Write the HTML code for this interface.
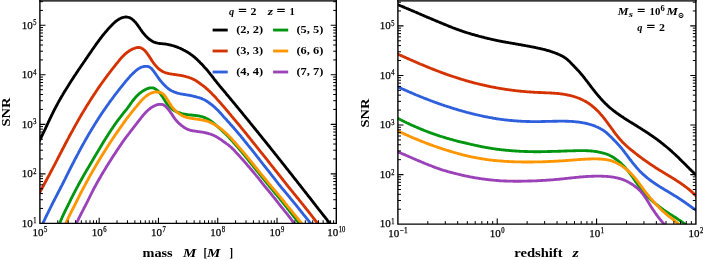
<!DOCTYPE html>
<html lang="en"><head><meta charset="utf-8"><title>SNR of ringdown modes</title>
<style>html,body{margin:0;padding:0;background:#fff;}body{width:703px;height:260px;overflow:hidden;}svg{display:block;}</style>
</head><body>
<svg width="703" height="260" viewBox="0 0 703 260" font-family='"Liberation Serif", "DejaVu Serif", serif'>
<rect width="703" height="260" fill="#fff"/>
<defs>
<clipPath id="c0"><rect x="39.9" y="0.85" width="296.40" height="222.50"/></clipPath>
<clipPath id="c1"><rect x="397.9" y="0.85" width="298.00" height="223.30"/></clipPath>
</defs>
<g clip-path="url(#c0)" fill="none" stroke-width="2.85" stroke-linejoin="round" stroke-linecap="butt">
<path d="M37.2,144.8 L37.6,144.1 L38.0,143.4 L38.4,142.7 L38.7,142.0 L39.1,141.3 L39.5,140.6 L39.8,139.9 L40.2,139.3 L40.5,138.6 L40.9,137.9 L41.2,137.2 L41.6,136.5 L41.9,135.8 L42.2,135.2 L42.6,134.5 L42.9,133.8 L43.2,133.1 L43.6,132.4 L43.9,131.8 L44.2,131.1 L44.5,130.4 L44.9,129.7 L45.2,129.1 L45.5,128.4 L45.8,127.7 L46.1,127.0 L46.4,126.4 L46.8,125.7 L47.1,125.0 L47.4,124.3 L47.7,123.7 L48.0,123.0 L48.3,122.3 L48.6,121.6 L49.0,121.0 L49.3,120.3 L49.6,119.6 L49.9,119.0 L50.2,118.3 L50.5,117.6 L50.9,117.0 L51.2,116.3 L51.5,115.6 L51.8,115.0 L52.1,114.3 L52.5,113.6 L52.8,113.0 L53.1,112.3 L53.4,111.7 L53.8,111.0 L54.1,110.3 L54.4,109.7 L54.8,109.0 L55.1,108.3 L55.5,107.7 L55.8,107.0 L56.2,106.4 L56.5,105.7 L56.9,105.1 L57.2,104.4 L57.6,103.7 L57.9,103.1 L58.3,102.4 L58.6,101.8 L59.0,101.1 L59.4,100.5 L59.7,99.8 L60.1,99.2 L60.5,98.5 L60.9,97.9 L61.2,97.2 L61.6,96.6 L62.0,95.9 L62.4,95.3 L62.8,94.6 L63.1,94.0 L63.5,93.3 L63.9,92.7 L64.3,92.0 L64.7,91.4 L65.1,90.7 L65.5,90.1 L65.9,89.5 L66.3,88.8 L66.7,88.2 L67.1,87.5 L67.5,86.9 L67.9,86.3 L68.3,85.6 L68.7,85.0 L69.1,84.3 L69.5,83.7 L69.9,83.1 L70.3,82.4 L70.7,81.8 L71.1,81.1 L71.5,80.5 L71.9,79.9 L72.4,79.2 L72.8,78.6 L73.2,78.0 L73.6,77.3 L74.0,76.7 L74.4,76.1 L74.8,75.4 L75.3,74.8 L75.7,74.2 L76.1,73.6 L76.5,72.9 L76.9,72.3 L77.4,71.7 L77.8,71.0 L78.2,70.4 L78.6,69.8 L79.0,69.2 L79.5,68.5 L79.9,67.9 L80.3,67.3 L80.7,66.7 L81.2,66.0 L81.6,65.4 L82.0,64.8 L82.4,64.2 L82.9,63.6 L83.3,62.9 L83.7,62.3 L84.1,61.7 L84.6,61.1 L85.0,60.5 L85.4,59.8 L85.8,59.2 L86.2,58.6 L86.7,58.0 L87.1,57.4 L87.5,56.8 L87.9,56.1 L88.3,55.5 L88.8,54.9 L89.2,54.3 L89.6,53.7 L90.0,53.1 L90.4,52.5 L90.9,51.9 L91.3,51.3 L91.7,50.6 L92.1,50.0 L92.5,49.4 L93.0,48.8 L93.4,48.2 L93.8,47.6 L94.2,47.0 L94.7,46.4 L95.1,45.8 L95.5,45.2 L95.9,44.6 L96.4,44.0 L96.8,43.4 L97.2,42.8 L97.7,42.2 L98.1,41.6 L98.6,41.0 L99.0,40.4 L99.4,39.8 L99.9,39.2 L100.3,38.6 L100.8,38.0 L101.2,37.4 L101.7,36.8 L102.2,36.2 L102.6,35.6 L103.1,35.1 L103.6,34.5 L104.0,33.9 L104.5,33.3 L105.0,32.7 L105.5,32.1 L106.0,31.5 L106.5,31.0 L107.0,30.4 L107.5,29.8 L108.0,29.2 L108.5,28.6 L109.0,28.0 L109.5,27.5 L110.1,26.9 L110.6,26.3 L111.2,25.8 L111.7,25.2 L112.3,24.6 L112.9,24.1 L113.4,23.5 L114.0,23.0 L114.6,22.4 L115.2,21.9 L115.8,21.4 L116.4,20.9 L117.1,20.5 L117.7,20.0 L118.3,19.6 L119.0,19.2 L119.6,18.8 L120.3,18.5 L120.9,18.2 L121.6,17.9 L122.3,17.7 L123.0,17.5 L123.6,17.3 L124.3,17.2 L125.0,17.1 L125.7,17.0 L126.3,17.0 L127.0,17.1 L127.6,17.2 L128.3,17.3 L128.9,17.5 L129.5,17.7 L130.1,17.9 L130.7,18.3 L131.3,18.6 L131.9,19.0 L132.5,19.5 L133.0,19.9 L133.6,20.4 L134.1,21.0 L134.6,21.5 L135.2,22.1 L135.7,22.6 L136.1,23.2 L136.6,23.8 L137.1,24.4 L137.5,25.0 L138.0,25.6 L138.4,26.2 L138.8,26.8 L139.3,27.4 L139.7,28.1 L140.1,28.7 L140.5,29.3 L141.0,29.9 L141.4,30.5 L141.8,31.2 L142.3,31.8 L142.7,32.4 L143.2,33.0 L143.7,33.6 L144.2,34.2 L144.7,34.8 L145.2,35.3 L145.7,35.9 L146.3,36.5 L146.8,37.0 L147.4,37.6 L148.0,38.1 L148.5,38.6 L149.1,39.1 L149.7,39.6 L150.4,40.0 L151.0,40.4 L151.6,40.8 L152.3,41.2 L152.9,41.5 L153.6,41.9 L154.2,42.2 L154.9,42.4 L155.6,42.6 L156.3,42.8 L157.0,43.0 L157.7,43.2 L158.4,43.3 L159.1,43.4 L159.9,43.5 L160.6,43.6 L161.3,43.6 L162.1,43.7 L162.8,43.8 L163.5,43.8 L164.2,43.9 L165.0,44.0 L165.7,44.1 L166.4,44.2 L167.2,44.3 L167.9,44.5 L168.6,44.6 L169.3,44.8 L170.1,44.9 L170.8,45.1 L171.5,45.3 L172.2,45.5 L172.9,45.7 L173.7,45.9 L174.4,46.1 L175.1,46.4 L175.8,46.6 L176.5,46.8 L177.2,47.1 L177.9,47.4 L178.6,47.7 L179.3,48.0 L180.0,48.3 L180.7,48.6 L181.3,48.9 L182.0,49.2 L182.7,49.5 L183.4,49.9 L184.0,50.2 L184.7,50.6 L185.4,51.0 L186.0,51.3 L186.7,51.7 L187.3,52.1 L188.0,52.5 L188.6,52.9 L189.2,53.3 L189.9,53.7 L190.5,54.2 L191.1,54.6 L191.7,55.0 L192.3,55.5 L192.9,55.9 L193.5,56.4 L194.1,56.9 L194.7,57.4 L195.3,57.9 L195.8,58.4 L196.4,58.9 L197.0,59.4 L197.5,60.0 L198.1,60.5 L198.6,61.1 L199.2,61.6 L199.7,62.1 L200.2,62.7 L200.7,63.2 L201.2,63.7 L201.8,64.2 L202.3,64.8 L202.8,65.3 L203.3,65.8 L203.7,66.3 L204.2,66.9 L204.7,67.4 L205.2,67.9 L205.7,68.5 L206.2,69.0 L206.6,69.6 L207.1,70.1 L207.6,70.7 L208.0,71.2 L208.5,71.8 L209.0,72.4 L209.4,72.9 L209.9,73.5 L210.3,74.1 L210.8,74.7 L211.3,75.2 L211.7,75.8 L212.2,76.4 L212.6,77.0 L213.1,77.6 L213.5,78.2 L214.0,78.8 L214.4,79.4 L214.9,79.9 L215.4,80.5 L215.8,81.1 L216.3,81.7 L216.8,82.3 L217.2,82.9 L217.7,83.4 L218.2,84.0 L218.6,84.6 L219.1,85.2 L219.6,85.8 L220.0,86.3 L220.5,86.9 L221.0,87.5 L221.5,88.1 L221.9,88.6 L222.4,89.2 L222.9,89.8 L223.4,90.3 L223.9,90.9 L224.3,91.5 L224.8,92.1 L225.3,92.6 L225.8,93.2 L226.3,93.8 L226.7,94.4 L227.2,94.9 L227.7,95.5 L228.2,96.1 L228.7,96.7 L229.1,97.2 L229.6,97.8 L230.1,98.4 L230.6,99.0 L231.0,99.5 L231.5,100.1 L232.0,100.7 L232.5,101.3 L233.0,101.9 L233.4,102.4 L233.9,103.0 L234.4,103.6 L234.9,104.2 L235.3,104.7 L235.8,105.3 L236.3,105.9 L236.8,106.5 L237.3,107.1 L237.7,107.6 L238.2,108.2 L238.7,108.8 L239.2,109.4 L239.6,110.0 L240.1,110.5 L240.6,111.1 L241.1,111.7 L241.5,112.3 L242.0,112.8 L242.5,113.4 L243.0,114.0 L243.4,114.6 L243.9,115.2 L244.4,115.7 L244.9,116.3 L245.3,116.9 L245.8,117.5 L246.3,118.1 L246.8,118.7 L247.2,119.2 L247.7,119.8 L248.2,120.4 L248.7,121.0 L249.1,121.6 L249.6,122.1 L250.1,122.7 L250.5,123.3 L251.0,123.9 L251.5,124.5 L252.0,125.0 L252.4,125.6 L252.9,126.2 L253.4,126.8 L253.9,127.4 L254.3,128.0 L254.8,128.5 L255.3,129.1 L255.7,129.7 L256.2,130.3 L256.7,130.9 L257.2,131.5 L257.6,132.0 L258.1,132.6 L258.6,133.2 L259.0,133.8 L259.5,134.4 L260.0,135.0 L260.5,135.5 L260.9,136.1 L261.4,136.7 L261.9,137.3 L262.3,137.9 L262.8,138.5 L263.3,139.0 L263.7,139.6 L264.2,140.2 L264.7,140.8 L265.2,141.4 L265.6,142.0 L266.1,142.5 L266.6,143.1 L267.0,143.7 L267.5,144.3 L268.0,144.9 L268.4,145.5 L268.9,146.1 L269.4,146.6 L269.8,147.2 L270.3,147.8 L270.8,148.4 L271.3,149.0 L271.7,149.6 L272.2,150.2 L272.7,150.7 L273.1,151.3 L273.6,151.9 L274.1,152.5 L274.5,153.1 L275.0,153.7 L275.5,154.3 L275.9,154.8 L276.4,155.4 L276.9,156.0 L277.3,156.6 L277.8,157.2 L278.3,157.8 L278.7,158.4 L279.2,159.0 L279.7,159.5 L280.1,160.1 L280.6,160.7 L281.1,161.3 L281.5,161.9 L282.0,162.5 L282.5,163.1 L282.9,163.7 L283.4,164.2 L283.9,164.8 L284.3,165.4 L284.8,166.0 L285.3,166.6 L285.7,167.2 L286.2,167.8 L286.6,168.4 L287.1,168.9 L287.6,169.5 L288.0,170.1 L288.5,170.7 L289.0,171.3 L289.4,171.9 L289.9,172.5 L290.4,173.1 L290.8,173.6 L291.3,174.2 L291.8,174.8 L292.2,175.4 L292.7,176.0 L293.1,176.6 L293.6,177.2 L294.1,177.8 L294.5,178.4 L295.0,178.9 L295.5,179.5 L295.9,180.1 L296.4,180.7 L296.9,181.3 L297.3,181.9 L297.8,182.5 L298.2,183.1 L298.7,183.7 L299.2,184.3 L299.6,184.8 L300.1,185.4 L300.6,186.0 L301.0,186.6 L301.5,187.2 L301.9,187.8 L302.4,188.4 L302.9,189.0 L303.3,189.6 L303.8,190.2 L304.3,190.7 L304.7,191.3 L305.2,191.9 L305.6,192.5 L306.1,193.1 L306.6,193.7 L307.0,194.3 L307.5,194.9 L308.0,195.5 L308.4,196.1 L308.9,196.7 L309.3,197.2 L309.8,197.8 L310.3,198.4 L310.7,199.0 L311.2,199.6 L311.6,200.2 L312.1,200.8 L312.6,201.4 L313.0,202.0 L313.5,202.6 L313.9,203.2 L314.4,203.7 L314.9,204.3 L315.3,204.9 L315.8,205.5 L316.2,206.1 L316.7,206.7 L317.2,207.3 L317.6,207.9 L318.1,208.5 L318.5,209.1 L319.0,209.7 L319.5,210.2 L319.9,210.8 L320.4,211.4 L320.9,212.0 L321.3,212.6 L321.8,213.2 L322.3,213.8 L322.7,214.4 L323.2,215.0 L323.7,215.6 L324.1,216.2 L324.6,216.8 L325.1,217.3 L325.5,217.9 L326.0,218.5 L326.5,219.1 L327.0,219.7 L327.4,220.3 L327.9,220.9 L328.4,221.5 L328.8,222.1 L329.3,222.7 L329.8,223.3 L330.2,223.9 L330.7,224.5 L331.1,225.0 L331.6,225.6 L332.1,226.2 L332.5,226.8 L333.0,227.4 L333.2,227.8" stroke="#000000"/>
<path d="M38.6,194.6 L38.9,193.9 L39.3,193.3 L39.7,192.6 L40.0,191.9 L40.4,191.3 L40.7,190.6 L41.1,190.0 L41.5,189.3 L41.8,188.6 L42.2,188.0 L42.6,187.3 L42.9,186.6 L43.3,186.0 L43.6,185.3 L44.0,184.6 L44.3,184.0 L44.7,183.3 L45.1,182.7 L45.4,182.0 L45.8,181.3 L46.1,180.7 L46.5,180.0 L46.8,179.3 L47.2,178.7 L47.6,178.0 L47.9,177.3 L48.3,176.7 L48.6,176.0 L49.0,175.4 L49.3,174.7 L49.7,174.0 L50.0,173.4 L50.4,172.7 L50.7,172.0 L51.1,171.4 L51.4,170.7 L51.8,170.0 L52.1,169.4 L52.5,168.7 L52.8,168.1 L53.2,167.4 L53.5,166.7 L53.9,166.1 L54.2,165.4 L54.6,164.7 L54.9,164.1 L55.3,163.4 L55.6,162.7 L55.9,162.1 L56.3,161.4 L56.6,160.8 L57.0,160.1 L57.3,159.4 L57.7,158.8 L58.0,158.1 L58.3,157.4 L58.7,156.8 L59.0,156.1 L59.4,155.5 L59.7,154.8 L60.0,154.1 L60.4,153.5 L60.7,152.8 L61.1,152.1 L61.4,151.5 L61.8,150.8 L62.1,150.2 L62.4,149.5 L62.8,148.8 L63.1,148.2 L63.5,147.5 L63.8,146.9 L64.2,146.2 L64.5,145.5 L64.8,144.9 L65.2,144.2 L65.5,143.5 L65.9,142.9 L66.2,142.2 L66.6,141.6 L66.9,140.9 L67.3,140.3 L67.6,139.6 L68.0,138.9 L68.3,138.3 L68.7,137.6 L69.0,137.0 L69.4,136.3 L69.7,135.6 L70.1,135.0 L70.5,134.3 L70.8,133.7 L71.2,133.0 L71.5,132.4 L71.9,131.7 L72.3,131.0 L72.6,130.4 L73.0,129.7 L73.3,129.1 L73.7,128.4 L74.1,127.8 L74.4,127.1 L74.8,126.5 L75.1,125.8 L75.5,125.1 L75.9,124.5 L76.2,123.8 L76.6,123.2 L77.0,122.5 L77.3,121.9 L77.7,121.2 L78.1,120.6 L78.4,119.9 L78.8,119.3 L79.2,118.6 L79.6,118.0 L79.9,117.3 L80.3,116.7 L80.7,116.0 L81.1,115.4 L81.4,114.7 L81.8,114.1 L82.2,113.4 L82.6,112.8 L83.0,112.1 L83.4,111.5 L83.8,110.8 L84.2,110.2 L84.6,109.5 L85.0,108.9 L85.4,108.2 L85.8,107.6 L86.1,106.9 L86.5,106.3 L86.9,105.6 L87.4,105.0 L87.8,104.4 L88.2,103.7 L88.6,103.1 L89.0,102.4 L89.4,101.8 L89.8,101.1 L90.2,100.5 L90.6,99.8 L91.0,99.2 L91.4,98.6 L91.8,97.9 L92.2,97.3 L92.7,96.6 L93.1,96.0 L93.5,95.4 L93.9,94.7 L94.3,94.1 L94.7,93.5 L95.2,92.8 L95.6,92.2 L96.0,91.5 L96.4,90.9 L96.9,90.3 L97.3,89.6 L97.7,89.0 L98.1,88.4 L98.6,87.7 L99.0,87.1 L99.5,86.5 L99.9,85.8 L100.3,85.2 L100.8,84.6 L101.2,83.9 L101.7,83.3 L102.1,82.7 L102.6,82.0 L103.0,81.4 L103.5,80.8 L103.9,80.2 L104.4,79.5 L104.9,78.9 L105.3,78.3 L105.8,77.6 L106.2,77.0 L106.7,76.4 L107.2,75.8 L107.6,75.1 L108.1,74.5 L108.6,73.9 L109.1,73.3 L109.5,72.6 L110.0,72.0 L110.5,71.4 L111.0,70.8 L111.4,70.2 L111.9,69.5 L112.4,68.9 L112.9,68.3 L113.4,67.7 L113.9,67.1 L114.4,66.5 L114.9,65.9 L115.3,65.2 L115.8,64.6 L116.3,64.0 L116.8,63.4 L117.3,62.8 L117.7,62.3 L118.2,61.7 L118.7,61.1 L119.1,60.5 L119.6,60.0 L120.0,59.4 L120.5,58.8 L121.0,58.3 L121.5,57.8 L121.9,57.2 L122.4,56.7 L122.9,56.2 L123.4,55.7 L123.9,55.2 L124.5,54.7 L125.0,54.2 L125.5,53.7 L126.0,53.3 L126.6,52.8 L127.1,52.4 L127.7,52.0 L128.3,51.6 L128.8,51.2 L129.4,50.8 L130.0,50.4 L130.6,50.1 L131.2,49.7 L131.9,49.4 L132.5,49.1 L133.1,48.8 L133.8,48.5 L134.5,48.3 L135.1,48.1 L135.8,47.9 L136.4,47.7 L137.1,47.6 L137.7,47.5 L138.4,47.5 L139.0,47.5 L139.6,47.6 L140.2,47.7 L140.8,47.9 L141.4,48.1 L141.9,48.4 L142.5,48.7 L143.0,49.1 L143.5,49.5 L144.0,49.9 L144.5,50.3 L145.0,50.8 L145.5,51.3 L145.9,51.9 L146.4,52.4 L146.8,53.0 L147.3,53.6 L147.7,54.3 L148.2,54.9 L148.6,55.5 L149.0,56.2 L149.5,56.9 L149.9,57.5 L150.3,58.2 L150.8,58.9 L151.2,59.6 L151.6,60.2 L152.1,60.9 L152.5,61.6 L153.0,62.2 L153.4,62.8 L153.9,63.5 L154.4,64.1 L154.9,64.7 L155.4,65.3 L155.9,65.9 L156.5,66.6 L157.1,67.2 L157.6,67.7 L158.2,68.3 L158.8,68.8 L159.4,69.3 L160.0,69.8 L160.6,70.2 L161.2,70.6 L161.8,71.0 L162.4,71.4 L163.1,71.7 L163.7,72.0 L164.4,72.3 L165.0,72.6 L165.7,72.8 L166.4,73.0 L167.1,73.2 L167.8,73.4 L168.5,73.5 L169.2,73.7 L170.0,73.8 L170.7,73.9 L171.4,74.1 L172.2,74.2 L172.9,74.3 L173.7,74.4 L174.5,74.5 L175.2,74.6 L176.0,74.7 L176.8,74.8 L177.5,75.0 L178.3,75.1 L179.1,75.2 L179.9,75.3 L180.6,75.4 L181.4,75.6 L182.2,75.7 L182.9,75.9 L183.7,76.0 L184.4,76.2 L185.2,76.4 L185.9,76.6 L186.7,76.8 L187.4,77.0 L188.1,77.2 L188.9,77.5 L189.6,77.7 L190.3,78.0 L190.9,78.2 L191.6,78.5 L192.3,78.8 L192.9,79.1 L193.6,79.4 L194.2,79.7 L194.9,80.1 L195.5,80.4 L196.1,80.8 L196.7,81.2 L197.3,81.6 L197.9,82.0 L198.5,82.4 L199.1,82.8 L199.6,83.2 L200.2,83.6 L200.8,84.1 L201.3,84.5 L201.9,84.9 L202.5,85.3 L203.0,85.7 L203.6,86.1 L204.1,86.6 L204.7,87.0 L205.2,87.4 L205.8,87.9 L206.3,88.4 L206.8,88.9 L207.4,89.3 L207.9,89.8 L208.4,90.3 L209.0,90.8 L209.5,91.3 L210.0,91.8 L210.6,92.3 L211.1,92.8 L211.6,93.3 L212.1,93.9 L212.6,94.4 L213.1,94.9 L213.7,95.5 L214.2,96.0 L214.7,96.5 L215.2,97.1 L215.7,97.6 L216.2,98.2 L216.7,98.7 L217.2,99.3 L217.7,99.9 L218.2,100.4 L218.7,101.0 L219.2,101.5 L219.7,102.1 L220.2,102.7 L220.7,103.2 L221.2,103.8 L221.7,104.4 L222.1,104.9 L222.6,105.5 L223.1,106.1 L223.6,106.6 L224.1,107.2 L224.6,107.8 L225.1,108.3 L225.6,108.9 L226.0,109.5 L226.5,110.0 L227.0,110.6 L227.5,111.2 L228.0,111.8 L228.5,112.3 L228.9,112.9 L229.4,113.5 L229.9,114.1 L230.4,114.6 L230.9,115.2 L231.3,115.8 L231.8,116.4 L232.3,116.9 L232.8,117.5 L233.3,118.1 L233.7,118.7 L234.2,119.2 L234.7,119.8 L235.2,120.4 L235.7,121.0 L236.2,121.5 L236.6,122.1 L237.1,122.7 L237.6,123.3 L238.1,123.8 L238.6,124.4 L239.0,125.0 L239.5,125.6 L240.0,126.1 L240.5,126.7 L240.9,127.3 L241.4,127.9 L241.9,128.5 L242.4,129.0 L242.8,129.6 L243.3,130.2 L243.8,130.8 L244.2,131.3 L244.7,131.9 L245.2,132.5 L245.6,133.1 L246.1,133.6 L246.6,134.2 L247.0,134.8 L247.5,135.4 L248.0,136.0 L248.4,136.5 L248.9,137.1 L249.4,137.7 L249.8,138.3 L250.3,138.8 L250.7,139.4 L251.2,140.0 L251.7,140.6 L252.1,141.2 L252.6,141.7 L253.1,142.3 L253.5,142.9 L254.0,143.5 L254.5,144.1 L254.9,144.6 L255.4,145.2 L255.9,145.8 L256.3,146.4 L256.8,147.0 L257.3,147.5 L257.7,148.1 L258.2,148.7 L258.7,149.3 L259.1,149.9 L259.6,150.4 L260.0,151.0 L260.5,151.6 L261.0,152.2 L261.4,152.8 L261.9,153.3 L262.4,153.9 L262.8,154.5 L263.3,155.1 L263.8,155.7 L264.2,156.3 L264.7,156.8 L265.2,157.4 L265.6,158.0 L266.1,158.6 L266.6,159.2 L267.0,159.7 L267.5,160.3 L267.9,160.9 L268.4,161.5 L268.9,162.1 L269.3,162.7 L269.8,163.2 L270.2,163.8 L270.7,164.4 L271.2,165.0 L271.6,165.6 L272.1,166.2 L272.6,166.8 L273.0,167.3 L273.5,167.9 L274.0,168.5 L274.4,169.1 L274.9,169.7 L275.4,170.3 L275.8,170.9 L276.3,171.4 L276.8,172.0 L277.2,172.6 L277.7,173.2 L278.2,173.8 L278.6,174.4 L279.1,175.0 L279.6,175.6 L280.0,176.1 L280.5,176.7 L281.0,177.3 L281.4,177.9 L281.9,178.5 L282.4,179.1 L282.8,179.7 L283.3,180.3 L283.7,180.9 L284.2,181.4 L284.7,182.0 L285.1,182.6 L285.6,183.2 L286.1,183.8 L286.5,184.4 L287.0,185.0 L287.5,185.6 L287.9,186.2 L288.4,186.8 L288.9,187.4 L289.4,187.9 L289.8,188.5 L290.3,189.1 L290.8,189.7 L291.3,190.3 L291.8,190.9 L292.3,191.5 L292.8,192.1 L293.3,192.7 L293.7,193.3 L294.2,193.9 L294.7,194.5 L295.2,195.1 L295.7,195.7 L296.2,196.3 L296.6,196.9 L297.1,197.4 L297.6,198.0 L298.1,198.6 L298.6,199.2 L299.0,199.8 L299.5,200.4 L300.0,201.0 L300.5,201.6 L301.0,202.2 L301.4,202.8 L301.9,203.4 L302.4,204.0 L302.9,204.6 L303.4,205.2 L303.8,205.8 L304.3,206.4 L304.8,207.0 L305.3,207.6 L305.7,208.2 L306.2,208.8 L306.7,209.4 L307.2,210.0 L307.7,210.6 L308.1,211.2 L308.6,211.8 L309.1,212.4 L309.5,213.0 L310.0,213.6 L310.5,214.2 L311.0,214.8 L311.4,215.4 L311.9,216.0 L312.4,216.7 L312.9,217.3 L313.3,217.9 L313.8,218.5 L314.3,219.1 L314.7,219.7 L315.2,220.3 L315.7,220.9 L316.1,221.5 L316.6,222.1 L317.0,222.7 L317.5,223.3 L317.9,223.9 L318.4,224.5 L318.8,225.1 L319.2,225.8 L319.7,226.4 L320.1,227.0 L320.5,227.6 L321.0,228.2 L321.1,228.3" stroke="#d43300"/>
<path d="M40.6,228.0 L40.9,227.3 L41.3,226.7 L41.6,226.0 L41.9,225.3 L42.2,224.6 L42.5,223.9 L42.9,223.3 L43.2,222.6 L43.5,221.9 L43.8,221.2 L44.2,220.5 L44.5,219.9 L44.8,219.2 L45.2,218.5 L45.5,217.8 L45.8,217.1 L46.1,216.5 L46.5,215.8 L46.8,215.1 L47.1,214.4 L47.5,213.7 L47.8,213.1 L48.1,212.4 L48.5,211.7 L48.8,211.0 L49.1,210.3 L49.5,209.7 L49.8,209.0 L50.1,208.3 L50.5,207.6 L50.8,207.0 L51.1,206.3 L51.5,205.6 L51.8,204.9 L52.1,204.2 L52.5,203.6 L52.8,202.9 L53.2,202.2 L53.5,201.5 L53.9,200.8 L54.2,200.2 L54.6,199.5 L54.9,198.8 L55.3,198.1 L55.6,197.5 L56.0,196.8 L56.3,196.1 L56.7,195.4 L57.0,194.7 L57.4,194.1 L57.7,193.4 L58.1,192.7 L58.4,192.0 L58.8,191.4 L59.1,190.7 L59.5,190.0 L59.8,189.3 L60.2,188.7 L60.5,188.0 L60.9,187.3 L61.2,186.6 L61.6,186.0 L61.9,185.3 L62.3,184.6 L62.6,183.9 L63.0,183.3 L63.3,182.6 L63.6,181.9 L64.0,181.3 L64.3,180.6 L64.6,179.9 L65.0,179.2 L65.3,178.6 L65.6,177.9 L66.0,177.2 L66.3,176.5 L66.6,175.9 L67.0,175.2 L67.3,174.5 L67.6,173.9 L68.0,173.2 L68.3,172.5 L68.6,171.9 L69.0,171.2 L69.3,170.5 L69.6,169.9 L70.0,169.2 L70.3,168.5 L70.6,167.9 L71.0,167.2 L71.3,166.5 L71.7,165.9 L72.0,165.2 L72.3,164.5 L72.7,163.9 L73.0,163.2 L73.4,162.5 L73.7,161.9 L74.1,161.2 L74.4,160.5 L74.7,159.9 L75.1,159.2 L75.4,158.5 L75.8,157.9 L76.1,157.2 L76.5,156.6 L76.8,155.9 L77.2,155.2 L77.5,154.6 L77.9,153.9 L78.2,153.3 L78.6,152.6 L78.9,151.9 L79.3,151.3 L79.6,150.6 L80.0,150.0 L80.3,149.3 L80.7,148.7 L81.0,148.0 L81.4,147.4 L81.8,146.7 L82.1,146.0 L82.5,145.4 L82.8,144.7 L83.2,144.1 L83.6,143.4 L83.9,142.8 L84.3,142.1 L84.6,141.5 L85.0,140.8 L85.4,140.2 L85.7,139.5 L86.1,138.9 L86.5,138.2 L86.9,137.6 L87.2,136.9 L87.6,136.3 L88.0,135.6 L88.4,135.0 L88.7,134.3 L89.1,133.7 L89.5,133.1 L89.9,132.4 L90.3,131.8 L90.7,131.1 L91.0,130.5 L91.4,129.8 L91.8,129.2 L92.2,128.6 L92.6,127.9 L93.0,127.3 L93.4,126.6 L93.8,126.0 L94.1,125.4 L94.5,124.7 L94.9,124.1 L95.3,123.5 L95.7,122.8 L96.1,122.2 L96.5,121.6 L96.9,120.9 L97.3,120.3 L97.7,119.7 L98.1,119.0 L98.5,118.4 L98.9,117.8 L99.3,117.1 L99.7,116.5 L100.2,115.9 L100.6,115.2 L101.0,114.6 L101.4,114.0 L101.8,113.4 L102.2,112.7 L102.7,112.1 L103.1,111.5 L103.5,110.9 L103.9,110.3 L104.4,109.6 L104.8,109.0 L105.2,108.4 L105.7,107.8 L106.1,107.1 L106.5,106.5 L107.0,105.9 L107.4,105.3 L107.8,104.7 L108.3,104.1 L108.7,103.5 L109.1,102.8 L109.6,102.2 L110.0,101.6 L110.5,101.0 L110.9,100.4 L111.4,99.8 L111.8,99.2 L112.3,98.6 L112.7,98.0 L113.2,97.3 L113.6,96.7 L114.1,96.1 L114.5,95.5 L115.0,94.9 L115.4,94.3 L115.9,93.7 L116.4,93.1 L116.8,92.5 L117.3,91.9 L117.8,91.3 L118.2,90.7 L118.7,90.1 L119.2,89.5 L119.6,88.9 L120.1,88.3 L120.6,87.7 L121.1,87.1 L121.5,86.6 L122.0,86.0 L122.5,85.4 L123.0,84.8 L123.4,84.2 L123.9,83.6 L124.4,83.0 L124.9,82.4 L125.3,81.8 L125.8,81.3 L126.3,80.7 L126.8,80.1 L127.3,79.5 L127.8,79.0 L128.3,78.4 L128.8,77.8 L129.3,77.2 L129.8,76.7 L130.3,76.1 L130.8,75.6 L131.3,75.0 L131.9,74.5 L132.4,73.9 L132.9,73.4 L133.5,72.9 L134.0,72.4 L134.6,71.8 L135.2,71.3 L135.7,70.8 L136.3,70.3 L136.9,69.9 L137.5,69.4 L138.1,69.0 L138.7,68.6 L139.4,68.2 L140.0,67.8 L140.7,67.5 L141.3,67.2 L142.0,67.0 L142.7,66.8 L143.3,66.6 L144.0,66.5 L144.7,66.4 L145.3,66.3 L146.0,66.3 L146.6,66.3 L147.2,66.4 L147.8,66.5 L148.4,66.6 L148.9,66.8 L149.5,67.1 L150.0,67.4 L150.5,67.8 L151.0,68.2 L151.5,68.6 L152.0,69.1 L152.4,69.7 L152.9,70.2 L153.4,70.8 L153.8,71.4 L154.3,72.0 L154.7,72.7 L155.2,73.3 L155.6,73.9 L156.1,74.5 L156.5,75.2 L156.9,75.8 L157.4,76.4 L157.8,77.0 L158.2,77.6 L158.7,78.3 L159.1,78.9 L159.5,79.5 L160.0,80.1 L160.4,80.7 L160.9,81.3 L161.4,81.8 L161.9,82.4 L162.4,83.0 L162.9,83.6 L163.4,84.1 L163.9,84.7 L164.5,85.2 L165.1,85.8 L165.7,86.4 L166.3,86.9 L166.9,87.5 L167.5,88.0 L168.1,88.5 L168.8,89.0 L169.4,89.5 L170.1,89.9 L170.7,90.3 L171.4,90.7 L172.0,91.0 L172.7,91.3 L173.3,91.6 L174.0,91.9 L174.7,92.2 L175.4,92.4 L176.1,92.7 L176.8,92.9 L177.5,93.1 L178.3,93.3 L179.0,93.5 L179.7,93.7 L180.5,93.8 L181.2,94.0 L182.0,94.1 L182.7,94.2 L183.5,94.4 L184.2,94.5 L185.0,94.6 L185.7,94.7 L186.5,94.8 L187.2,95.0 L188.0,95.1 L188.8,95.2 L189.5,95.4 L190.3,95.5 L191.0,95.6 L191.8,95.8 L192.5,96.0 L193.3,96.1 L194.0,96.3 L194.8,96.5 L195.5,96.7 L196.2,96.9 L196.9,97.1 L197.6,97.3 L198.3,97.5 L199.0,97.7 L199.7,97.9 L200.4,98.2 L201.1,98.4 L201.8,98.6 L202.4,98.9 L203.0,99.2 L203.7,99.5 L204.3,99.8 L204.9,100.1 L205.5,100.5 L206.1,100.9 L206.8,101.2 L207.4,101.7 L208.0,102.1 L208.7,102.5 L209.3,103.0 L210.0,103.5 L210.7,104.0 L211.3,104.5 L212.0,105.0 L212.7,105.5 L213.3,106.1 L214.0,106.6 L214.6,107.2 L215.3,107.8 L215.9,108.4 L216.5,109.0 L217.1,109.6 L217.7,110.1 L218.3,110.7 L218.8,111.3 L219.4,111.9 L219.9,112.4 L220.4,113.0 L220.9,113.6 L221.4,114.1 L221.9,114.7 L222.4,115.2 L222.9,115.8 L223.3,116.3 L223.8,116.9 L224.3,117.4 L224.8,118.0 L225.3,118.5 L225.8,119.0 L226.3,119.6 L226.8,120.1 L227.2,120.7 L227.7,121.2 L228.2,121.7 L228.7,122.3 L229.2,122.8 L229.7,123.3 L230.1,123.9 L230.6,124.4 L231.1,124.9 L231.6,125.5 L232.0,126.0 L232.5,126.5 L233.0,127.1 L233.5,127.6 L233.9,128.2 L234.4,128.7 L234.9,129.2 L235.3,129.8 L235.8,130.3 L236.3,130.9 L236.7,131.4 L237.2,132.0 L237.7,132.5 L238.1,133.0 L238.6,133.6 L239.0,134.1 L239.5,134.7 L240.0,135.2 L240.4,135.8 L240.9,136.3 L241.3,136.9 L241.8,137.5 L242.3,138.0 L242.7,138.6 L243.2,139.1 L243.6,139.7 L244.1,140.2 L244.5,140.8 L245.0,141.4 L245.4,141.9 L245.9,142.5 L246.3,143.0 L246.8,143.6 L247.2,144.2 L247.7,144.7 L248.1,145.3 L248.6,145.9 L249.1,146.4 L249.5,147.0 L250.0,147.6 L250.4,148.1 L250.9,148.7 L251.3,149.3 L251.8,149.8 L252.3,150.4 L252.7,151.0 L253.2,151.6 L253.6,152.1 L254.1,152.7 L254.6,153.3 L255.0,153.9 L255.5,154.4 L255.9,155.0 L256.4,155.6 L256.8,156.2 L257.3,156.7 L257.7,157.3 L258.2,157.9 L258.6,158.5 L259.1,159.1 L259.5,159.6 L260.0,160.2 L260.4,160.8 L260.9,161.4 L261.3,162.0 L261.8,162.5 L262.2,163.1 L262.7,163.7 L263.1,164.3 L263.6,164.9 L264.0,165.5 L264.5,166.0 L265.0,166.6 L265.4,167.2 L265.9,167.8 L266.4,168.4 L266.8,169.0 L267.3,169.6 L267.8,170.2 L268.2,170.7 L268.7,171.3 L269.2,171.9 L269.6,172.5 L270.1,173.1 L270.6,173.7 L271.0,174.3 L271.5,174.9 L272.0,175.5 L272.4,176.1 L272.9,176.7 L273.4,177.2 L273.8,177.8 L274.3,178.4 L274.7,179.0 L275.2,179.6 L275.7,180.2 L276.1,180.8 L276.6,181.4 L277.1,182.0 L277.5,182.6 L278.0,183.2 L278.4,183.8 L278.9,184.4 L279.4,185.0 L279.9,185.6 L280.3,186.2 L280.8,186.8 L281.3,187.4 L281.8,188.0 L282.3,188.6 L282.8,189.2 L283.3,189.8 L283.8,190.3 L284.3,190.9 L284.8,191.5 L285.3,192.1 L285.8,192.7 L286.3,193.3 L286.8,193.9 L287.3,194.5 L287.8,195.1 L288.3,195.7 L288.8,196.3 L289.3,196.9 L289.8,197.5 L290.2,198.1 L290.7,198.7 L291.2,199.3 L291.7,199.9 L292.2,200.5 L292.7,201.1 L293.2,201.7 L293.7,202.3 L294.2,202.9 L294.7,203.5 L295.2,204.1 L295.7,204.7 L296.2,205.3 L296.7,205.9 L297.1,206.5 L297.6,207.1 L298.1,207.7 L298.6,208.3 L299.0,208.9 L299.5,209.5 L300.0,210.1 L300.5,210.7 L301.0,211.3 L301.4,211.9 L301.9,212.5 L302.4,213.1 L302.9,213.7 L303.3,214.3 L303.8,214.9 L304.3,215.4 L304.8,216.0 L305.2,216.6 L305.7,217.2 L306.2,217.8 L306.7,218.4 L307.1,219.0 L307.6,219.6 L308.1,220.2 L308.6,220.8 L309.0,221.4 L309.5,222.0 L310.0,222.6 L310.4,223.2 L310.9,223.8 L311.3,224.4 L311.8,224.9 L312.2,225.5 L312.7,226.1 L313.1,226.7 L313.6,227.3 L314.1,227.9 L314.3,228.2" stroke="#2e5fdc"/>
<path d="M58.0,228.1 L58.2,227.4 L58.5,226.7 L58.7,225.9 L58.9,225.2 L59.2,224.5 L59.5,223.8 L59.7,223.1 L60.0,222.4 L60.3,221.7 L60.6,221.0 L60.9,220.3 L61.2,219.6 L61.5,218.9 L61.8,218.2 L62.1,217.5 L62.4,216.8 L62.7,216.1 L63.1,215.4 L63.4,214.7 L63.7,214.0 L64.0,213.3 L64.4,212.6 L64.7,211.9 L65.0,211.2 L65.4,210.5 L65.7,209.8 L66.1,209.1 L66.4,208.4 L66.8,207.7 L67.1,207.0 L67.5,206.4 L67.8,205.7 L68.1,205.0 L68.5,204.3 L68.8,203.6 L69.2,202.9 L69.5,202.2 L69.8,201.6 L70.1,200.9 L70.5,200.2 L70.8,199.5 L71.1,198.8 L71.5,198.2 L71.8,197.5 L72.1,196.8 L72.5,196.1 L72.8,195.5 L73.2,194.8 L73.5,194.1 L73.9,193.5 L74.2,192.8 L74.6,192.1 L74.9,191.4 L75.3,190.8 L75.6,190.1 L76.0,189.4 L76.3,188.8 L76.7,188.1 L77.0,187.4 L77.4,186.8 L77.8,186.1 L78.1,185.5 L78.5,184.8 L78.8,184.1 L79.2,183.5 L79.6,182.8 L79.9,182.2 L80.3,181.5 L80.7,180.8 L81.0,180.2 L81.4,179.5 L81.8,178.9 L82.1,178.2 L82.5,177.6 L82.9,176.9 L83.2,176.2 L83.6,175.6 L84.0,174.9 L84.4,174.3 L84.7,173.6 L85.1,173.0 L85.5,172.3 L85.9,171.7 L86.2,171.0 L86.6,170.4 L87.0,169.7 L87.4,169.1 L87.8,168.5 L88.1,167.8 L88.5,167.2 L88.9,166.5 L89.3,165.9 L89.7,165.2 L90.1,164.6 L90.4,163.9 L90.8,163.3 L91.2,162.7 L91.6,162.0 L91.9,161.4 L92.3,160.7 L92.7,160.1 L93.1,159.5 L93.4,158.8 L93.8,158.2 L94.2,157.5 L94.6,156.9 L94.9,156.3 L95.3,155.6 L95.7,155.0 L96.1,154.4 L96.5,153.7 L96.8,153.1 L97.2,152.5 L97.6,151.8 L98.0,151.2 L98.3,150.6 L98.7,149.9 L99.1,149.3 L99.5,148.7 L99.9,148.0 L100.2,147.4 L100.6,146.8 L101.0,146.1 L101.4,145.5 L101.8,144.9 L102.1,144.2 L102.5,143.6 L102.9,143.0 L103.3,142.4 L103.6,141.7 L104.0,141.1 L104.4,140.5 L104.8,139.8 L105.2,139.2 L105.6,138.6 L106.0,138.0 L106.4,137.3 L106.8,136.7 L107.2,136.1 L107.6,135.5 L108.0,134.8 L108.4,134.2 L108.8,133.6 L109.2,132.9 L109.6,132.3 L110.0,131.7 L110.4,131.1 L110.8,130.5 L111.2,129.8 L111.6,129.2 L112.1,128.6 L112.5,128.0 L112.9,127.3 L113.3,126.7 L113.8,126.1 L114.2,125.5 L114.6,124.8 L115.1,124.2 L115.5,123.6 L116.0,123.0 L116.4,122.3 L116.9,121.7 L117.3,121.1 L117.8,120.5 L118.2,119.9 L118.7,119.2 L119.2,118.6 L119.6,118.0 L120.1,117.4 L120.6,116.8 L121.1,116.1 L121.6,115.5 L122.1,114.9 L122.5,114.3 L123.0,113.7 L123.5,113.0 L124.0,112.4 L124.5,111.8 L125.0,111.2 L125.5,110.6 L126.0,110.0 L126.5,109.4 L127.0,108.8 L127.4,108.2 L127.9,107.6 L128.3,107.0 L128.7,106.4 L129.2,105.8 L129.6,105.2 L130.0,104.6 L130.4,104.0 L130.8,103.5 L131.2,102.9 L131.7,102.3 L132.1,101.7 L132.5,101.2 L132.9,100.6 L133.4,100.0 L133.8,99.5 L134.2,98.9 L134.7,98.4 L135.1,97.9 L135.6,97.3 L136.1,96.8 L136.6,96.3 L137.1,95.8 L137.6,95.3 L138.1,94.8 L138.6,94.3 L139.2,93.8 L139.7,93.3 L140.3,92.9 L140.9,92.4 L141.5,92.0 L142.1,91.5 L142.7,91.1 L143.4,90.7 L144.0,90.3 L144.7,89.9 L145.4,89.5 L146.1,89.2 L146.8,88.8 L147.5,88.6 L148.2,88.3 L148.9,88.1 L149.6,88.0 L150.3,87.9 L150.9,87.8 L151.6,87.8 L152.3,87.8 L152.9,87.9 L153.5,88.1 L154.1,88.3 L154.7,88.6 L155.3,88.9 L155.9,89.3 L156.4,89.7 L157.0,90.1 L157.5,90.6 L158.0,91.1 L158.5,91.6 L159.0,92.1 L159.5,92.7 L160.0,93.2 L160.4,93.8 L160.8,94.4 L161.3,95.0 L161.7,95.6 L162.1,96.2 L162.5,96.8 L162.9,97.4 L163.3,98.0 L163.7,98.7 L164.1,99.3 L164.5,99.9 L164.8,100.5 L165.2,101.1 L165.6,101.8 L166.0,102.4 L166.4,103.0 L166.8,103.5 L167.2,104.1 L167.7,104.7 L168.1,105.3 L168.6,105.8 L169.1,106.4 L169.6,106.9 L170.2,107.5 L170.7,108.0 L171.3,108.5 L171.9,109.0 L172.6,109.4 L173.2,109.9 L173.9,110.3 L174.5,110.7 L175.2,111.1 L176.0,111.4 L176.7,111.8 L177.4,112.1 L178.2,112.4 L178.9,112.7 L179.7,112.9 L180.4,113.2 L181.2,113.4 L181.9,113.6 L182.7,113.8 L183.4,114.0 L184.1,114.1 L184.9,114.2 L185.7,114.4 L186.4,114.5 L187.2,114.6 L187.9,114.7 L188.7,114.8 L189.5,114.9 L190.2,115.0 L191.0,115.0 L191.7,115.1 L192.5,115.2 L193.3,115.2 L194.0,115.3 L194.8,115.4 L195.5,115.5 L196.2,115.6 L197.0,115.7 L197.7,115.8 L198.4,115.9 L199.2,116.0 L199.9,116.2 L200.6,116.3 L201.3,116.5 L202.0,116.7 L202.7,116.9 L203.4,117.1 L204.0,117.3 L204.7,117.6 L205.4,117.9 L206.0,118.2 L206.7,118.5 L207.3,118.8 L208.0,119.2 L208.6,119.6 L209.3,120.0 L209.9,120.4 L210.5,120.8 L211.1,121.3 L211.8,121.7 L212.4,122.2 L213.0,122.7 L213.6,123.2 L214.2,123.6 L214.7,124.1 L215.3,124.6 L215.9,125.1 L216.4,125.6 L217.0,126.1 L217.5,126.6 L218.1,127.1 L218.6,127.6 L219.2,128.0 L219.7,128.5 L220.2,129.0 L220.8,129.5 L221.3,130.0 L221.8,130.4 L222.3,130.9 L222.9,131.4 L223.4,131.9 L223.9,132.4 L224.4,132.8 L224.9,133.3 L225.4,133.8 L225.9,134.3 L226.4,134.8 L226.9,135.3 L227.4,135.8 L227.9,136.3 L228.4,136.8 L228.9,137.3 L229.4,137.9 L229.9,138.4 L230.4,138.9 L230.9,139.4 L231.4,140.0 L231.8,140.5 L232.3,141.0 L232.8,141.6 L233.3,142.1 L233.7,142.7 L234.2,143.2 L234.7,143.7 L235.2,144.3 L235.6,144.8 L236.1,145.4 L236.6,146.0 L237.1,146.5 L237.6,147.1 L238.1,147.6 L238.5,148.2 L239.0,148.8 L239.5,149.3 L240.0,149.9 L240.5,150.5 L241.0,151.1 L241.5,151.6 L241.9,152.2 L242.4,152.8 L242.9,153.4 L243.4,153.9 L243.9,154.5 L244.3,155.1 L244.8,155.7 L245.3,156.3 L245.8,156.9 L246.2,157.5 L246.7,158.0 L247.2,158.6 L247.7,159.2 L248.1,159.8 L248.6,160.4 L249.1,161.0 L249.6,161.6 L250.0,162.2 L250.5,162.8 L251.0,163.4 L251.4,164.0 L251.9,164.5 L252.4,165.1 L252.9,165.7 L253.3,166.3 L253.8,166.9 L254.3,167.5 L254.8,168.1 L255.2,168.7 L255.7,169.3 L256.2,169.9 L256.7,170.5 L257.1,171.1 L257.6,171.6 L258.1,172.2 L258.6,172.8 L259.1,173.4 L259.5,174.0 L260.0,174.6 L260.5,175.2 L261.0,175.8 L261.4,176.4 L261.9,177.0 L262.4,177.5 L262.9,178.1 L263.3,178.7 L263.8,179.3 L264.3,179.9 L264.8,180.5 L265.2,181.1 L265.7,181.7 L266.2,182.3 L266.7,182.8 L267.1,183.4 L267.6,184.0 L268.1,184.6 L268.6,185.2 L269.0,185.8 L269.5,186.4 L270.0,187.0 L270.5,187.6 L271.0,188.1 L271.5,188.7 L272.0,189.3 L272.5,189.9 L273.0,190.5 L273.5,191.1 L273.9,191.7 L274.4,192.3 L274.9,192.9 L275.4,193.5 L275.9,194.1 L276.4,194.6 L276.9,195.2 L277.4,195.8 L277.9,196.4 L278.4,197.0 L278.9,197.6 L279.4,198.2 L279.9,198.8 L280.3,199.4 L280.8,200.0 L281.3,200.6 L281.8,201.2 L282.3,201.8 L282.7,202.4 L283.2,203.0 L283.7,203.6 L284.2,204.2 L284.6,204.8 L285.1,205.4 L285.6,206.0 L286.1,206.6 L286.6,207.2 L287.1,207.8 L287.5,208.5 L288.0,209.1 L288.5,209.7 L289.0,210.3 L289.5,210.9 L289.9,211.5 L290.4,212.1 L290.9,212.7 L291.4,213.4 L291.9,214.0 L292.4,214.6 L292.8,215.2 L293.3,215.8 L293.8,216.5 L294.3,217.1 L294.8,217.7 L295.3,218.3 L295.8,218.9 L296.3,219.6 L296.7,220.2 L297.2,220.8 L297.7,221.5 L298.2,222.1 L298.6,222.7 L299.1,223.4 L299.6,224.0 L300.0,224.6 L300.5,225.3 L300.9,225.9 L301.4,226.6 L301.8,227.2 L302.3,227.8 L302.4,228.1" stroke="#00960f"/>
<path d="M64.1,228.1 L64.3,227.4 L64.6,226.7 L64.9,225.9 L65.1,225.2 L65.4,224.5 L65.7,223.8 L66.0,223.1 L66.3,222.4 L66.6,221.7 L66.9,221.0 L67.2,220.3 L67.5,219.6 L67.9,218.9 L68.2,218.2 L68.5,217.5 L68.8,216.8 L69.2,216.1 L69.5,215.4 L69.9,214.7 L70.2,214.0 L70.5,213.3 L70.9,212.6 L71.2,211.9 L71.6,211.2 L71.9,210.6 L72.3,209.9 L72.6,209.2 L73.0,208.5 L73.4,207.8 L73.7,207.1 L74.1,206.4 L74.4,205.7 L74.8,205.0 L75.1,204.4 L75.5,203.7 L75.8,203.0 L76.2,202.3 L76.5,201.6 L76.8,200.9 L77.2,200.3 L77.5,199.6 L77.8,198.9 L78.2,198.2 L78.5,197.6 L78.8,196.9 L79.2,196.2 L79.5,195.5 L79.8,194.9 L80.2,194.2 L80.5,193.5 L80.9,192.8 L81.2,192.2 L81.6,191.5 L81.9,190.8 L82.3,190.1 L82.6,189.5 L83.0,188.8 L83.3,188.1 L83.7,187.5 L84.0,186.8 L84.4,186.1 L84.8,185.5 L85.1,184.8 L85.5,184.1 L85.8,183.5 L86.2,182.8 L86.5,182.2 L86.9,181.5 L87.2,180.8 L87.6,180.2 L88.0,179.5 L88.3,178.9 L88.7,178.2 L89.0,177.5 L89.4,176.9 L89.8,176.2 L90.1,175.6 L90.5,174.9 L90.9,174.3 L91.2,173.6 L91.6,173.0 L92.0,172.3 L92.4,171.7 L92.7,171.0 L93.1,170.4 L93.5,169.7 L93.9,169.1 L94.2,168.4 L94.6,167.8 L95.0,167.1 L95.4,166.5 L95.8,165.8 L96.1,165.2 L96.5,164.5 L96.9,163.9 L97.3,163.2 L97.7,162.6 L98.0,162.0 L98.4,161.3 L98.8,160.7 L99.2,160.0 L99.6,159.4 L100.0,158.7 L100.4,158.1 L100.7,157.5 L101.1,156.8 L101.5,156.2 L101.9,155.6 L102.3,154.9 L102.7,154.3 L103.1,153.6 L103.5,153.0 L103.9,152.4 L104.3,151.7 L104.7,151.1 L105.1,150.5 L105.5,149.8 L105.9,149.2 L106.3,148.6 L106.7,147.9 L107.1,147.3 L107.5,146.7 L107.9,146.1 L108.3,145.4 L108.7,144.8 L109.1,144.2 L109.5,143.5 L109.9,142.9 L110.3,142.3 L110.7,141.7 L111.1,141.0 L111.6,140.4 L112.0,139.8 L112.4,139.2 L112.8,138.5 L113.2,137.9 L113.6,137.3 L114.1,136.7 L114.5,136.0 L114.9,135.4 L115.3,134.8 L115.8,134.2 L116.2,133.6 L116.6,132.9 L117.0,132.3 L117.5,131.7 L117.9,131.1 L118.3,130.5 L118.8,129.9 L119.2,129.2 L119.6,128.6 L120.1,128.0 L120.5,127.4 L120.9,126.8 L121.4,126.2 L121.8,125.5 L122.2,124.9 L122.7,124.3 L123.1,123.7 L123.5,123.1 L124.0,122.5 L124.4,121.9 L124.8,121.2 L125.3,120.6 L125.7,120.0 L126.2,119.4 L126.6,118.8 L127.1,118.2 L127.5,117.6 L128.0,117.0 L128.5,116.4 L128.9,115.8 L129.4,115.2 L129.9,114.6 L130.3,114.0 L130.8,113.4 L131.3,112.8 L131.7,112.2 L132.2,111.6 L132.7,111.0 L133.2,110.4 L133.7,109.8 L134.2,109.2 L134.6,108.6 L135.1,108.0 L135.6,107.4 L136.1,106.9 L136.6,106.3 L137.1,105.7 L137.5,105.1 L138.0,104.6 L138.5,104.0 L139.0,103.4 L139.4,102.9 L139.9,102.3 L140.4,101.7 L140.9,101.2 L141.4,100.6 L141.9,100.1 L142.4,99.5 L143.0,99.0 L143.5,98.5 L144.0,98.0 L144.6,97.5 L145.1,97.0 L145.7,96.5 L146.2,96.1 L146.8,95.7 L147.4,95.2 L148.0,94.8 L148.5,94.5 L149.1,94.1 L149.7,93.8 L150.4,93.5 L151.0,93.2 L151.6,93.0 L152.2,92.7 L152.9,92.5 L153.6,92.4 L154.2,92.2 L154.9,92.1 L155.6,92.1 L156.2,92.0 L156.9,92.0 L157.6,92.0 L158.2,92.1 L158.9,92.1 L159.5,92.3 L160.1,92.4 L160.7,92.6 L161.2,92.8 L161.8,93.1 L162.3,93.4 L162.8,93.8 L163.3,94.2 L163.8,94.7 L164.3,95.2 L164.7,95.7 L165.2,96.3 L165.6,96.9 L166.0,97.5 L166.4,98.1 L166.8,98.8 L167.2,99.4 L167.6,100.1 L168.0,100.7 L168.5,101.4 L168.9,102.1 L169.3,102.7 L169.7,103.4 L170.1,104.1 L170.5,104.7 L171.0,105.4 L171.4,106.0 L171.9,106.7 L172.4,107.3 L172.9,107.9 L173.5,108.6 L174.0,109.2 L174.6,109.8 L175.2,110.4 L175.8,111.0 L176.4,111.5 L177.1,112.1 L177.7,112.6 L178.4,113.1 L179.0,113.6 L179.7,114.1 L180.4,114.6 L181.1,115.0 L181.7,115.4 L182.4,115.7 L183.1,116.1 L183.8,116.4 L184.5,116.7 L185.2,116.9 L185.9,117.1 L186.6,117.4 L187.3,117.6 L188.0,117.7 L188.8,117.9 L189.5,118.0 L190.3,118.2 L191.0,118.3 L191.8,118.4 L192.5,118.5 L193.3,118.7 L194.0,118.8 L194.8,118.9 L195.6,119.0 L196.3,119.1 L197.1,119.2 L197.8,119.3 L198.6,119.4 L199.3,119.5 L200.1,119.6 L200.8,119.8 L201.5,119.9 L202.3,120.0 L203.0,120.1 L203.7,120.3 L204.4,120.4 L205.1,120.6 L205.8,120.8 L206.5,121.0 L207.2,121.2 L207.9,121.4 L208.6,121.7 L209.3,122.0 L210.0,122.3 L210.7,122.6 L211.4,122.9 L212.1,123.2 L212.8,123.6 L213.5,124.0 L214.2,124.3 L214.8,124.7 L215.5,125.1 L216.1,125.5 L216.8,125.9 L217.4,126.3 L218.0,126.7 L218.6,127.1 L219.1,127.5 L219.7,127.9 L220.3,128.3 L220.8,128.8 L221.4,129.2 L221.9,129.6 L222.4,130.1 L223.0,130.5 L223.5,131.0 L224.0,131.4 L224.6,131.9 L225.1,132.4 L225.6,132.9 L226.1,133.3 L226.7,133.8 L227.2,134.3 L227.7,134.8 L228.2,135.3 L228.7,135.8 L229.2,136.3 L229.7,136.8 L230.2,137.3 L230.7,137.8 L231.2,138.3 L231.7,138.8 L232.1,139.4 L232.6,139.9 L233.1,140.4 L233.6,141.0 L234.1,141.5 L234.5,142.0 L235.0,142.6 L235.5,143.1 L235.9,143.7 L236.4,144.2 L236.9,144.8 L237.4,145.3 L237.8,145.9 L238.3,146.4 L238.8,147.0 L239.3,147.6 L239.8,148.1 L240.3,148.7 L240.8,149.3 L241.3,149.8 L241.8,150.4 L242.3,151.0 L242.8,151.6 L243.3,152.2 L243.8,152.7 L244.3,153.3 L244.8,153.9 L245.3,154.5 L245.8,155.1 L246.3,155.7 L246.7,156.3 L247.2,156.8 L247.7,157.4 L248.2,158.0 L248.7,158.6 L249.2,159.2 L249.7,159.8 L250.1,160.4 L250.6,161.0 L251.1,161.6 L251.6,162.2 L252.1,162.8 L252.5,163.4 L253.0,164.0 L253.5,164.6 L254.0,165.2 L254.5,165.8 L254.9,166.3 L255.4,166.9 L255.9,167.5 L256.4,168.1 L256.8,168.7 L257.3,169.3 L257.8,169.9 L258.3,170.5 L258.8,171.1 L259.2,171.7 L259.7,172.3 L260.2,172.9 L260.7,173.4 L261.2,174.0 L261.6,174.6 L262.1,175.2 L262.6,175.8 L263.1,176.4 L263.5,177.0 L264.0,177.5 L264.5,178.1 L265.0,178.7 L265.5,179.3 L265.9,179.9 L266.4,180.5 L266.9,181.1 L267.4,181.6 L267.9,182.2 L268.3,182.8 L268.8,183.4 L269.3,184.0 L269.8,184.5 L270.3,185.1 L270.8,185.7 L271.2,186.3 L271.7,186.9 L272.2,187.5 L272.7,188.0 L273.2,188.6 L273.7,189.2 L274.2,189.8 L274.7,190.4 L275.2,191.0 L275.7,191.5 L276.2,192.1 L276.7,192.7 L277.2,193.3 L277.7,193.9 L278.2,194.5 L278.6,195.0 L279.1,195.6 L279.6,196.2 L280.1,196.8 L280.6,197.4 L281.1,198.0 L281.5,198.6 L282.0,199.2 L282.5,199.7 L283.0,200.3 L283.5,200.9 L283.9,201.5 L284.4,202.1 L284.9,202.7 L285.3,203.3 L285.8,203.9 L286.3,204.5 L286.8,205.1 L287.3,205.7 L287.7,206.3 L288.2,206.9 L288.7,207.4 L289.2,208.0 L289.7,208.6 L290.2,209.2 L290.7,209.8 L291.2,210.4 L291.7,211.0 L292.2,211.7 L292.7,212.3 L293.1,212.9 L293.6,213.5 L294.1,214.1 L294.6,214.7 L295.1,215.3 L295.6,215.9 L296.1,216.5 L296.6,217.1 L297.1,217.7 L297.6,218.4 L298.1,219.0 L298.6,219.6 L299.1,220.2 L299.6,220.8 L300.1,221.5 L300.6,222.1 L301.0,222.7 L301.5,223.3 L302.0,224.0 L302.4,224.6 L302.9,225.2 L303.3,225.9 L303.8,226.5 L304.3,227.1 L304.7,227.8 L305.0,228.1" stroke="#ff9600"/>
<path d="M74.5,228.1 L74.8,227.4 L75.1,226.7 L75.4,226.0 L75.7,225.3 L76.0,224.6 L76.3,223.9 L76.6,223.2 L76.9,222.5 L77.2,221.8 L77.5,221.1 L77.9,220.4 L78.2,219.7 L78.5,219.0 L78.9,218.3 L79.2,217.6 L79.6,216.9 L79.9,216.2 L80.2,215.5 L80.6,214.9 L80.9,214.2 L81.3,213.5 L81.6,212.8 L82.0,212.1 L82.3,211.4 L82.7,210.7 L83.0,210.1 L83.4,209.4 L83.7,208.7 L84.1,208.0 L84.4,207.3 L84.8,206.7 L85.2,206.0 L85.5,205.3 L85.9,204.6 L86.2,204.0 L86.5,203.3 L86.9,202.6 L87.2,201.9 L87.5,201.3 L87.9,200.6 L88.2,199.9 L88.5,199.3 L88.8,198.6 L89.2,197.9 L89.5,197.3 L89.8,196.6 L90.2,195.9 L90.5,195.3 L90.8,194.6 L91.2,193.9 L91.5,193.3 L91.8,192.6 L92.2,192.0 L92.5,191.3 L92.9,190.6 L93.2,190.0 L93.5,189.3 L93.9,188.7 L94.2,188.0 L94.6,187.3 L94.9,186.7 L95.3,186.0 L95.6,185.4 L96.0,184.7 L96.3,184.1 L96.7,183.4 L97.1,182.8 L97.4,182.1 L97.8,181.5 L98.2,180.8 L98.5,180.2 L98.9,179.5 L99.3,178.9 L99.6,178.2 L100.0,177.6 L100.4,177.0 L100.8,176.3 L101.1,175.7 L101.5,175.0 L101.9,174.4 L102.3,173.7 L102.7,173.1 L103.0,172.5 L103.4,171.8 L103.8,171.2 L104.2,170.5 L104.6,169.9 L105.0,169.3 L105.4,168.6 L105.8,168.0 L106.1,167.3 L106.5,166.7 L106.9,166.1 L107.3,165.4 L107.7,164.8 L108.1,164.2 L108.5,163.5 L108.9,162.9 L109.3,162.3 L109.7,161.6 L110.1,161.0 L110.5,160.4 L110.9,159.8 L111.3,159.1 L111.7,158.5 L112.1,157.9 L112.5,157.2 L112.9,156.6 L113.3,156.0 L113.7,155.4 L114.1,154.7 L114.6,154.1 L115.0,153.5 L115.4,152.9 L115.8,152.2 L116.2,151.6 L116.6,151.0 L117.0,150.4 L117.4,149.7 L117.9,149.1 L118.3,148.5 L118.7,147.9 L119.1,147.3 L119.5,146.6 L119.9,146.0 L120.4,145.4 L120.8,144.8 L121.2,144.2 L121.6,143.5 L122.1,142.9 L122.5,142.3 L122.9,141.7 L123.3,141.1 L123.8,140.4 L124.2,139.8 L124.7,139.2 L125.1,138.6 L125.6,138.0 L126.0,137.4 L126.5,136.7 L127.0,136.1 L127.4,135.5 L127.9,134.9 L128.4,134.3 L128.8,133.7 L129.3,133.1 L129.8,132.4 L130.2,131.8 L130.7,131.2 L131.2,130.6 L131.7,130.0 L132.1,129.4 L132.6,128.8 L133.1,128.2 L133.6,127.5 L134.0,126.9 L134.5,126.3 L135.0,125.7 L135.5,125.1 L135.9,124.5 L136.4,123.9 L136.9,123.3 L137.4,122.7 L137.8,122.0 L138.3,121.4 L138.8,120.8 L139.3,120.2 L139.7,119.6 L140.2,119.0 L140.7,118.4 L141.1,117.8 L141.6,117.2 L142.1,116.6 L142.6,116.0 L143.1,115.4 L143.5,114.9 L144.0,114.3 L144.5,113.7 L145.0,113.2 L145.5,112.6 L146.1,112.1 L146.6,111.5 L147.1,111.0 L147.7,110.5 L148.2,110.0 L148.8,109.6 L149.3,109.1 L149.9,108.7 L150.5,108.2 L151.0,107.8 L151.6,107.4 L152.2,107.0 L152.8,106.7 L153.5,106.3 L154.1,106.0 L154.7,105.7 L155.3,105.4 L156.0,105.2 L156.6,104.9 L157.3,104.7 L157.9,104.6 L158.5,104.5 L159.1,104.4 L159.8,104.3 L160.3,104.3 L160.9,104.3 L161.5,104.4 L162.0,104.5 L162.5,104.6 L163.0,104.7 L163.5,104.9 L163.9,105.2 L164.4,105.5 L164.9,105.8 L165.3,106.2 L165.8,106.6 L166.2,107.0 L166.7,107.5 L167.2,108.0 L167.6,108.6 L168.1,109.2 L168.6,109.8 L169.1,110.4 L169.6,111.0 L170.1,111.7 L170.5,112.4 L171.0,113.1 L171.5,113.7 L172.0,114.4 L172.4,115.1 L172.9,115.8 L173.3,116.5 L173.8,117.2 L174.3,117.9 L174.7,118.5 L175.2,119.2 L175.7,119.8 L176.2,120.4 L176.7,121.0 L177.2,121.6 L177.7,122.1 L178.2,122.7 L178.8,123.2 L179.3,123.7 L179.9,124.2 L180.5,124.7 L181.1,125.2 L181.7,125.7 L182.4,126.2 L183.1,126.7 L183.7,127.2 L184.4,127.6 L185.1,128.0 L185.8,128.4 L186.5,128.8 L187.2,129.1 L187.9,129.4 L188.5,129.7 L189.2,129.9 L189.9,130.1 L190.6,130.3 L191.4,130.5 L192.1,130.6 L192.8,130.8 L193.6,130.9 L194.3,131.0 L195.1,131.1 L195.8,131.2 L196.6,131.3 L197.4,131.5 L198.1,131.6 L198.9,131.6 L199.7,131.8 L200.4,131.9 L201.2,132.0 L202.0,132.1 L202.7,132.2 L203.5,132.3 L204.2,132.5 L205.0,132.6 L205.7,132.8 L206.5,133.0 L207.2,133.2 L207.9,133.4 L208.6,133.6 L209.3,133.8 L210.0,134.0 L210.7,134.2 L211.3,134.5 L212.0,134.7 L212.6,135.0 L213.3,135.2 L213.9,135.5 L214.5,135.8 L215.1,136.1 L215.8,136.4 L216.4,136.8 L217.0,137.1 L217.6,137.5 L218.3,137.9 L218.9,138.3 L219.6,138.8 L220.3,139.2 L221.0,139.7 L221.7,140.2 L222.4,140.7 L223.2,141.2 L223.9,141.8 L224.6,142.3 L225.4,142.8 L226.1,143.4 L226.8,143.9 L227.6,144.4 L228.3,144.9 L228.9,145.5 L229.6,146.0 L230.2,146.5 L230.8,147.0 L231.4,147.6 L231.9,148.1 L232.4,148.6 L232.9,149.1 L233.4,149.6 L233.9,150.1 L234.4,150.6 L234.9,151.1 L235.4,151.7 L235.9,152.2 L236.3,152.7 L236.8,153.2 L237.3,153.7 L237.8,154.3 L238.3,154.8 L238.8,155.3 L239.2,155.8 L239.7,156.3 L240.2,156.9 L240.7,157.4 L241.1,157.9 L241.6,158.5 L242.1,159.0 L242.6,159.5 L243.0,160.0 L243.5,160.6 L244.0,161.1 L244.4,161.6 L244.9,162.2 L245.4,162.7 L245.8,163.3 L246.3,163.8 L246.8,164.3 L247.2,164.9 L247.7,165.4 L248.2,166.0 L248.6,166.5 L249.1,167.1 L249.6,167.6 L250.0,168.2 L250.5,168.7 L251.0,169.3 L251.5,169.8 L251.9,170.4 L252.4,170.9 L252.9,171.5 L253.3,172.0 L253.8,172.6 L254.2,173.1 L254.7,173.7 L255.2,174.2 L255.6,174.8 L256.1,175.4 L256.5,175.9 L257.0,176.5 L257.5,177.0 L257.9,177.6 L258.4,178.2 L258.8,178.7 L259.3,179.3 L259.7,179.9 L260.2,180.4 L260.6,181.0 L261.1,181.6 L261.5,182.2 L262.0,182.7 L262.4,183.3 L262.9,183.9 L263.3,184.5 L263.8,185.0 L264.2,185.6 L264.7,186.2 L265.1,186.8 L265.6,187.3 L266.1,187.9 L266.6,188.5 L267.1,189.1 L267.6,189.7 L268.1,190.3 L268.6,190.8 L269.0,191.4 L269.5,192.0 L270.0,192.6 L270.5,193.2 L271.0,193.8 L271.5,194.4 L271.9,195.0 L272.4,195.6 L272.9,196.2 L273.4,196.7 L273.8,197.3 L274.3,197.9 L274.8,198.5 L275.3,199.1 L275.7,199.7 L276.2,200.3 L276.7,200.9 L277.1,201.5 L277.6,202.1 L278.1,202.7 L278.5,203.3 L279.0,203.9 L279.5,204.6 L280.0,205.2 L280.5,205.8 L280.9,206.4 L281.4,207.0 L281.9,207.6 L282.4,208.2 L282.9,208.8 L283.4,209.4 L283.9,210.0 L284.4,210.7 L284.9,211.3 L285.4,211.9 L285.9,212.5 L286.4,213.1 L286.9,213.7 L287.4,214.4 L287.9,215.0 L288.3,215.6 L288.8,216.2 L289.3,216.8 L289.8,217.5 L290.3,218.1 L290.8,218.7 L291.2,219.3 L291.7,220.0 L292.2,220.6 L292.6,221.2 L293.1,221.9 L293.5,222.5 L293.9,223.1 L294.3,223.7 L294.8,224.4 L295.2,225.0 L295.6,225.6 L296.0,226.3 L296.4,226.9 L296.8,227.5 L297.1,228.0" stroke="#9b42b8"/>
</g>
<g clip-path="url(#c1)" fill="none" stroke-width="2.85" stroke-linejoin="round" stroke-linecap="butt">
<path d="M395.1,3.6 L395.8,3.9 L396.4,4.1 L397.1,4.4 L397.8,4.7 L398.4,5.0 L399.1,5.2 L399.8,5.5 L400.4,5.8 L401.1,6.0 L401.8,6.3 L402.5,6.6 L403.1,6.9 L403.8,7.1 L404.5,7.4 L405.1,7.7 L405.8,8.0 L406.5,8.3 L407.2,8.6 L407.9,8.8 L408.5,9.1 L409.2,9.4 L409.9,9.7 L410.6,10.0 L411.2,10.3 L411.9,10.6 L412.6,10.9 L413.3,11.2 L414.0,11.4 L414.6,11.7 L415.3,12.0 L416.0,12.3 L416.7,12.6 L417.4,12.9 L418.1,13.2 L418.7,13.5 L419.4,13.8 L420.1,14.1 L420.8,14.4 L421.5,14.7 L422.2,15.0 L422.9,15.3 L423.6,15.6 L424.2,15.9 L424.9,16.2 L425.6,16.5 L426.3,16.8 L427.0,17.1 L427.7,17.4 L428.4,17.6 L429.1,17.9 L429.8,18.2 L430.5,18.5 L431.2,18.8 L431.9,19.1 L432.6,19.4 L433.3,19.7 L434.0,20.0 L434.7,20.3 L435.3,20.6 L436.0,20.8 L436.7,21.1 L437.4,21.4 L438.1,21.7 L438.8,22.0 L439.5,22.3 L440.2,22.6 L440.9,22.9 L441.6,23.2 L442.4,23.5 L443.1,23.8 L443.8,24.1 L444.5,24.4 L445.2,24.7 L445.9,24.9 L446.6,25.2 L447.3,25.5 L448.0,25.8 L448.7,26.1 L449.4,26.4 L450.1,26.7 L450.8,26.9 L451.5,27.2 L452.2,27.5 L452.9,27.8 L453.6,28.0 L454.4,28.3 L455.1,28.6 L455.8,28.9 L456.5,29.1 L457.2,29.4 L457.9,29.6 L458.6,29.9 L459.3,30.1 L460.1,30.4 L460.8,30.6 L461.5,30.9 L462.2,31.1 L462.9,31.4 L463.6,31.6 L464.3,31.8 L465.1,32.1 L465.8,32.3 L466.5,32.5 L467.2,32.8 L467.9,33.0 L468.6,33.2 L469.4,33.4 L470.1,33.6 L470.8,33.9 L471.5,34.1 L472.2,34.3 L473.0,34.5 L473.7,34.7 L474.4,34.9 L475.1,35.1 L475.8,35.3 L476.6,35.5 L477.3,35.7 L478.0,35.9 L478.7,36.1 L479.5,36.3 L480.2,36.5 L480.9,36.7 L481.6,36.9 L482.3,37.1 L483.1,37.2 L483.8,37.4 L484.5,37.6 L485.3,37.8 L486.0,38.0 L486.7,38.1 L487.4,38.3 L488.2,38.5 L488.9,38.7 L489.6,38.8 L490.3,39.0 L491.1,39.2 L491.8,39.3 L492.5,39.5 L493.3,39.7 L494.0,39.8 L494.7,40.0 L495.4,40.1 L496.2,40.3 L496.9,40.5 L497.6,40.6 L498.4,40.8 L499.1,40.9 L499.8,41.1 L500.6,41.2 L501.3,41.4 L502.0,41.5 L502.8,41.6 L503.5,41.8 L504.2,41.9 L505.0,42.0 L505.7,42.1 L506.4,42.3 L507.2,42.4 L507.9,42.5 L508.6,42.7 L509.4,42.8 L510.1,42.9 L510.8,43.1 L511.6,43.2 L512.3,43.3 L513.1,43.4 L513.8,43.6 L514.5,43.7 L515.3,43.8 L516.0,44.0 L516.7,44.1 L517.5,44.2 L518.2,44.3 L519.0,44.5 L519.7,44.6 L520.4,44.7 L521.2,44.9 L521.9,45.0 L522.7,45.1 L523.4,45.3 L524.1,45.4 L524.9,45.5 L525.6,45.7 L526.4,45.8 L527.1,45.9 L527.8,46.1 L528.6,46.2 L529.3,46.4 L530.1,46.5 L530.8,46.7 L531.6,46.8 L532.3,46.9 L533.0,47.1 L533.8,47.2 L534.5,47.4 L535.3,47.5 L536.0,47.7 L536.7,47.8 L537.5,48.0 L538.2,48.2 L539.0,48.3 L539.7,48.5 L540.5,48.6 L541.2,48.8 L541.9,49.0 L542.7,49.2 L543.4,49.3 L544.1,49.5 L544.9,49.7 L545.6,49.9 L546.3,50.1 L547.0,50.3 L547.8,50.5 L548.5,50.7 L549.2,50.9 L549.9,51.1 L550.6,51.4 L551.3,51.6 L552.0,51.8 L552.7,52.1 L553.4,52.3 L554.1,52.5 L554.8,52.8 L555.5,53.1 L556.2,53.3 L556.9,53.6 L557.6,53.9 L558.2,54.2 L558.9,54.5 L559.6,54.8 L560.2,55.1 L560.9,55.4 L561.5,55.7 L562.2,56.1 L562.8,56.4 L563.5,56.8 L564.1,57.2 L564.7,57.6 L565.3,58.0 L565.9,58.4 L566.5,58.9 L567.2,59.4 L567.7,59.9 L568.3,60.4 L568.9,61.0 L569.5,61.5 L570.1,62.1 L570.6,62.7 L571.2,63.3 L571.8,63.9 L572.3,64.5 L572.9,65.0 L573.4,65.6 L574.0,66.2 L574.5,66.7 L575.0,67.3 L575.6,67.8 L576.1,68.3 L576.6,68.9 L577.1,69.4 L577.6,70.0 L578.1,70.5 L578.7,71.1 L579.2,71.7 L579.7,72.2 L580.2,72.8 L580.7,73.4 L581.1,74.0 L581.6,74.6 L582.1,75.1 L582.6,75.7 L583.1,76.3 L583.6,76.9 L584.0,77.5 L584.5,78.1 L585.0,78.7 L585.4,79.3 L585.9,79.9 L586.4,80.5 L586.8,81.1 L587.3,81.7 L587.8,82.3 L588.2,82.9 L588.7,83.5 L589.1,84.1 L589.6,84.7 L590.1,85.4 L590.5,86.0 L591.0,86.6 L591.4,87.2 L591.9,87.8 L592.4,88.4 L592.8,89.0 L593.3,89.6 L593.7,90.1 L594.2,90.7 L594.7,91.3 L595.1,91.9 L595.6,92.5 L596.1,93.1 L596.5,93.6 L597.0,94.2 L597.5,94.8 L598.0,95.4 L598.4,95.9 L598.9,96.5 L599.4,97.1 L599.9,97.6 L600.4,98.2 L600.9,98.7 L601.3,99.3 L601.8,99.8 L602.3,100.4 L602.9,100.9 L603.4,101.5 L603.9,102.0 L604.4,102.6 L604.9,103.1 L605.4,103.6 L606.0,104.1 L606.5,104.6 L607.0,105.1 L607.6,105.6 L608.1,106.1 L608.7,106.6 L609.2,107.1 L609.8,107.6 L610.4,108.1 L610.9,108.5 L611.5,109.0 L612.1,109.5 L612.6,109.9 L613.2,110.4 L613.8,110.9 L614.4,111.3 L615.0,111.7 L615.6,112.2 L616.2,112.6 L616.8,113.1 L617.4,113.5 L618.0,113.9 L618.6,114.3 L619.2,114.8 L619.8,115.2 L620.4,115.6 L621.0,116.0 L621.6,116.4 L622.3,116.8 L622.9,117.2 L623.5,117.7 L624.1,118.1 L624.7,118.5 L625.4,118.9 L626.0,119.3 L626.6,119.7 L627.3,120.1 L627.9,120.5 L628.5,120.9 L629.1,121.3 L629.8,121.7 L630.4,122.0 L631.0,122.4 L631.7,122.8 L632.3,123.2 L632.9,123.6 L633.6,124.0 L634.2,124.4 L634.9,124.8 L635.5,125.2 L636.1,125.6 L636.8,126.0 L637.4,126.4 L638.0,126.8 L638.7,127.2 L639.3,127.5 L640.0,127.9 L640.6,128.4 L641.2,128.8 L641.9,129.2 L642.5,129.6 L643.1,130.0 L643.8,130.4 L644.4,130.8 L645.1,131.2 L645.7,131.6 L646.3,132.1 L647.0,132.5 L647.6,132.9 L648.2,133.3 L648.9,133.7 L649.5,134.2 L650.1,134.6 L650.7,135.0 L651.4,135.4 L652.0,135.9 L652.6,136.3 L653.2,136.7 L653.9,137.2 L654.5,137.6 L655.1,138.0 L655.7,138.5 L656.4,138.9 L657.0,139.4 L657.6,139.8 L658.2,140.3 L658.8,140.8 L659.4,141.2 L660.0,141.7 L660.6,142.2 L661.2,142.7 L661.8,143.1 L662.5,143.6 L663.1,144.1 L663.6,144.6 L664.2,145.1 L664.8,145.5 L665.4,146.0 L666.0,146.5 L666.6,147.0 L667.2,147.5 L667.8,148.0 L668.4,148.5 L668.9,149.0 L669.5,149.4 L670.1,149.9 L670.6,150.4 L671.2,150.9 L671.8,151.4 L672.3,151.9 L672.9,152.5 L673.5,153.0 L674.0,153.5 L674.6,154.0 L675.1,154.5 L675.7,155.0 L676.2,155.6 L676.8,156.1 L677.3,156.6 L677.9,157.1 L678.4,157.7 L679.0,158.2 L679.5,158.7 L680.0,159.3 L680.6,159.8 L681.1,160.3 L681.7,160.9 L682.2,161.4 L682.7,161.9 L683.3,162.5 L683.8,163.0 L684.3,163.5 L684.9,164.1 L685.4,164.6 L685.9,165.1 L686.5,165.7 L687.0,166.2 L687.5,166.7 L688.1,167.3 L688.6,167.8 L689.1,168.3 L689.7,168.9 L690.2,169.4 L690.8,169.9 L691.3,170.4 L691.8,171.0 L692.4,171.5 L692.9,172.0 L693.4,172.5 L694.0,173.1 L694.5,173.6 L695.1,174.1 L695.6,174.6 L696.1,175.1 L696.7,175.6 L697.2,176.1 L697.8,176.6 L698.3,177.1 L698.9,177.6 L699.0,177.7" stroke="#000000"/>
<path d="M395.0,52.9 L395.7,53.2 L396.4,53.5 L397.0,53.8 L397.7,54.1 L398.4,54.4 L399.1,54.7 L399.7,55.0 L400.4,55.3 L401.1,55.6 L401.8,55.9 L402.5,56.2 L403.1,56.5 L403.8,56.8 L404.5,57.1 L405.2,57.4 L405.9,57.7 L406.5,58.0 L407.2,58.3 L407.9,58.6 L408.6,58.9 L409.3,59.2 L409.9,59.5 L410.6,59.8 L411.3,60.1 L412.0,60.4 L412.7,60.7 L413.4,61.0 L414.0,61.3 L414.7,61.6 L415.4,61.9 L416.1,62.2 L416.8,62.5 L417.5,62.8 L418.2,63.1 L418.9,63.4 L419.5,63.7 L420.2,64.0 L420.9,64.3 L421.6,64.5 L422.3,64.8 L423.0,65.1 L423.7,65.4 L424.4,65.7 L425.1,66.0 L425.8,66.3 L426.4,66.6 L427.1,66.8 L427.8,67.1 L428.5,67.4 L429.2,67.7 L429.9,68.0 L430.6,68.3 L431.3,68.5 L432.0,68.8 L432.7,69.1 L433.4,69.4 L434.1,69.6 L434.8,69.9 L435.5,70.2 L436.2,70.5 L436.9,70.7 L437.6,71.0 L438.3,71.3 L439.0,71.5 L439.7,71.8 L440.4,72.1 L441.1,72.3 L441.8,72.6 L442.5,72.8 L443.2,73.1 L443.9,73.3 L444.6,73.6 L445.3,73.9 L446.0,74.1 L446.7,74.4 L447.4,74.6 L448.1,74.9 L448.8,75.1 L449.5,75.3 L450.2,75.6 L451.0,75.8 L451.7,76.1 L452.4,76.3 L453.1,76.5 L453.8,76.8 L454.5,77.0 L455.2,77.2 L455.9,77.5 L456.6,77.7 L457.3,77.9 L458.1,78.2 L458.8,78.4 L459.5,78.6 L460.2,78.9 L460.9,79.1 L461.6,79.3 L462.3,79.5 L463.0,79.7 L463.8,80.0 L464.5,80.2 L465.2,80.4 L465.9,80.6 L466.6,80.8 L467.3,81.0 L468.1,81.2 L468.8,81.4 L469.5,81.6 L470.2,81.8 L470.9,82.0 L471.7,82.2 L472.4,82.4 L473.1,82.6 L473.8,82.8 L474.5,83.0 L475.3,83.2 L476.0,83.3 L476.7,83.5 L477.4,83.7 L478.2,83.9 L478.9,84.0 L479.6,84.2 L480.3,84.4 L481.1,84.6 L481.8,84.7 L482.5,84.9 L483.2,85.1 L484.0,85.2 L484.7,85.4 L485.4,85.6 L486.2,85.7 L486.9,85.9 L487.6,86.1 L488.4,86.2 L489.1,86.4 L489.8,86.5 L490.5,86.7 L491.3,86.8 L492.0,87.0 L492.7,87.1 L493.5,87.2 L494.2,87.4 L494.9,87.5 L495.7,87.7 L496.4,87.8 L497.2,87.9 L497.9,88.1 L498.6,88.2 L499.4,88.3 L500.1,88.4 L500.8,88.6 L501.6,88.7 L502.3,88.8 L503.1,88.9 L503.8,89.0 L504.5,89.1 L505.3,89.3 L506.0,89.4 L506.8,89.5 L507.5,89.6 L508.3,89.7 L509.0,89.8 L509.7,89.9 L510.5,90.0 L511.2,90.1 L512.0,90.2 L512.7,90.3 L513.5,90.4 L514.2,90.5 L515.0,90.6 L515.7,90.7 L516.5,90.8 L517.2,90.8 L518.0,90.9 L518.7,91.0 L519.5,91.1 L520.2,91.2 L521.0,91.2 L521.7,91.3 L522.5,91.4 L523.2,91.4 L524.0,91.5 L524.7,91.6 L525.5,91.6 L526.2,91.7 L527.0,91.8 L527.8,91.8 L528.5,91.9 L529.3,91.9 L530.0,92.0 L530.8,92.0 L531.5,92.1 L532.3,92.1 L533.1,92.2 L533.8,92.2 L534.6,92.3 L535.3,92.3 L536.1,92.3 L536.9,92.4 L537.6,92.4 L538.4,92.5 L539.1,92.5 L539.9,92.5 L540.7,92.5 L541.4,92.6 L542.2,92.6 L543.0,92.6 L543.7,92.7 L544.5,92.7 L545.2,92.7 L546.0,92.8 L546.8,92.8 L547.5,92.8 L548.3,92.9 L549.0,92.9 L549.8,92.9 L550.6,93.0 L551.3,93.0 L552.1,93.1 L552.8,93.1 L553.6,93.2 L554.3,93.2 L555.1,93.3 L555.8,93.3 L556.6,93.4 L557.3,93.5 L558.1,93.5 L558.8,93.6 L559.6,93.7 L560.3,93.8 L561.1,93.9 L561.8,94.0 L562.5,94.1 L563.3,94.2 L564.0,94.3 L564.7,94.4 L565.5,94.6 L566.2,94.7 L566.9,94.8 L567.7,95.0 L568.4,95.1 L569.1,95.3 L569.8,95.4 L570.6,95.6 L571.3,95.8 L572.0,96.0 L572.7,96.2 L573.4,96.4 L574.1,96.6 L574.8,96.8 L575.5,97.0 L576.2,97.3 L576.9,97.5 L577.6,97.8 L578.3,98.0 L579.0,98.3 L579.7,98.6 L580.4,98.9 L581.1,99.2 L581.7,99.5 L582.4,99.8 L583.1,100.2 L583.7,100.5 L584.4,100.8 L585.1,101.2 L585.7,101.6 L586.4,101.9 L587.0,102.3 L587.7,102.7 L588.3,103.1 L588.9,103.6 L589.6,104.0 L590.2,104.4 L590.8,104.9 L591.4,105.3 L592.0,105.8 L592.6,106.3 L593.2,106.8 L593.8,107.3 L594.4,107.8 L594.9,108.3 L595.5,108.9 L596.1,109.4 L596.6,109.9 L597.2,110.5 L597.7,111.0 L598.3,111.6 L598.8,112.1 L599.3,112.7 L599.8,113.3 L600.3,113.8 L600.8,114.4 L601.3,114.9 L601.8,115.5 L602.3,116.1 L602.8,116.7 L603.2,117.2 L603.7,117.8 L604.2,118.4 L604.6,119.0 L605.1,119.6 L605.6,120.2 L606.0,120.8 L606.5,121.4 L606.9,122.0 L607.4,122.6 L607.8,123.2 L608.2,123.8 L608.7,124.4 L609.1,125.0 L609.5,125.6 L610.0,126.2 L610.4,126.8 L610.9,127.4 L611.3,128.0 L611.7,128.6 L612.2,129.2 L612.6,129.8 L613.0,130.4 L613.5,131.0 L613.9,131.6 L614.3,132.2 L614.8,132.8 L615.2,133.4 L615.7,134.0 L616.1,134.6 L616.6,135.2 L617.0,135.7 L617.5,136.3 L618.0,136.9 L618.4,137.5 L618.9,138.0 L619.4,138.6 L619.9,139.2 L620.4,139.7 L620.9,140.3 L621.4,140.8 L621.9,141.4 L622.4,141.9 L622.9,142.4 L623.4,142.9 L623.9,143.5 L624.5,144.0 L625.0,144.5 L625.5,145.0 L626.1,145.5 L626.6,146.0 L627.2,146.5 L627.7,147.0 L628.3,147.5 L628.8,148.0 L629.4,148.5 L630.0,148.9 L630.5,149.4 L631.1,149.9 L631.7,150.3 L632.3,150.8 L632.8,151.3 L633.4,151.7 L634.0,152.2 L634.6,152.6 L635.1,153.1 L635.7,153.5 L636.3,154.0 L636.9,154.4 L637.4,154.9 L638.0,155.3 L638.6,155.8 L639.2,156.2 L639.8,156.6 L640.4,157.1 L640.9,157.5 L641.5,158.0 L642.1,158.4 L642.7,158.8 L643.3,159.3 L643.9,159.7 L644.5,160.1 L645.1,160.5 L645.7,161.0 L646.3,161.4 L646.9,161.8 L647.5,162.2 L648.1,162.6 L648.7,163.0 L649.3,163.4 L649.9,163.9 L650.5,164.3 L651.1,164.7 L651.8,165.1 L652.4,165.5 L653.0,165.9 L653.6,166.3 L654.3,166.7 L654.9,167.2 L655.5,167.6 L656.1,168.0 L656.8,168.4 L657.4,168.8 L658.0,169.2 L658.7,169.6 L659.3,170.0 L660.0,170.4 L660.6,170.8 L661.2,171.1 L661.9,171.5 L662.5,171.9 L663.1,172.3 L663.8,172.7 L664.4,173.1 L665.1,173.5 L665.7,173.9 L666.4,174.3 L667.0,174.6 L667.6,175.0 L668.3,175.4 L668.9,175.8 L669.6,176.2 L670.2,176.6 L670.9,177.0 L671.5,177.4 L672.1,177.8 L672.8,178.1 L673.4,178.5 L674.1,178.9 L674.7,179.3 L675.3,179.7 L676.0,180.1 L676.6,180.6 L677.2,181.0 L677.9,181.4 L678.5,181.8 L679.1,182.2 L679.8,182.6 L680.4,183.1 L681.0,183.5 L681.6,183.9 L682.2,184.4 L682.9,184.8 L683.5,185.2 L684.1,185.7 L684.7,186.1 L685.3,186.6 L685.9,187.0 L686.5,187.5 L687.1,188.0 L687.7,188.4 L688.3,188.9 L688.9,189.4 L689.5,189.9 L690.0,190.3 L690.6,190.8 L691.2,191.3 L691.8,191.8 L692.3,192.3 L692.9,192.9 L693.4,193.4 L694.0,193.9 L694.5,194.4 L695.1,195.0 L695.6,195.5 L696.1,196.1 L696.6,196.6 L697.2,197.2 L697.7,197.7 L698.2,198.3 L698.7,198.9 L698.9,199.1" stroke="#d43300"/>
<path d="M395.0,85.6 L395.7,85.9 L396.4,86.3 L397.1,86.6 L397.8,86.9 L398.4,87.2 L399.1,87.5 L399.8,87.8 L400.5,88.1 L401.2,88.4 L401.9,88.7 L402.5,89.0 L403.2,89.3 L403.9,89.6 L404.6,89.9 L405.3,90.2 L406.0,90.5 L406.7,90.8 L407.3,91.1 L408.0,91.4 L408.7,91.7 L409.4,92.0 L410.1,92.3 L410.8,92.6 L411.5,92.9 L412.2,93.2 L412.9,93.5 L413.6,93.8 L414.3,94.1 L414.9,94.4 L415.6,94.7 L416.3,95.0 L417.0,95.3 L417.7,95.5 L418.4,95.8 L419.1,96.1 L419.8,96.4 L420.5,96.7 L421.2,97.0 L421.9,97.2 L422.6,97.5 L423.3,97.8 L424.0,98.1 L424.7,98.3 L425.4,98.6 L426.1,98.9 L426.8,99.2 L427.5,99.4 L428.2,99.7 L428.9,100.0 L429.6,100.2 L430.3,100.5 L431.0,100.8 L431.7,101.0 L432.4,101.3 L433.1,101.5 L433.9,101.8 L434.6,102.1 L435.3,102.3 L436.0,102.6 L436.7,102.8 L437.4,103.1 L438.1,103.3 L438.8,103.6 L439.5,103.8 L440.2,104.1 L440.9,104.3 L441.6,104.6 L442.4,104.8 L443.1,105.1 L443.8,105.3 L444.5,105.6 L445.2,105.8 L445.9,106.0 L446.6,106.3 L447.4,106.5 L448.1,106.7 L448.8,107.0 L449.5,107.2 L450.2,107.4 L450.9,107.7 L451.6,107.9 L452.4,108.1 L453.1,108.3 L453.8,108.6 L454.5,108.8 L455.2,109.0 L456.0,109.2 L456.7,109.4 L457.4,109.6 L458.1,109.9 L458.8,110.1 L459.6,110.3 L460.3,110.5 L461.0,110.7 L461.7,110.9 L462.4,111.1 L463.2,111.3 L463.9,111.5 L464.6,111.7 L465.3,111.9 L466.1,112.1 L466.8,112.3 L467.5,112.5 L468.2,112.7 L469.0,112.9 L469.7,113.1 L470.4,113.2 L471.1,113.4 L471.9,113.6 L472.6,113.8 L473.3,114.0 L474.1,114.1 L474.8,114.3 L475.5,114.5 L476.2,114.7 L477.0,114.8 L477.7,115.0 L478.4,115.2 L479.2,115.3 L479.9,115.5 L480.6,115.7 L481.4,115.8 L482.1,116.0 L482.8,116.1 L483.6,116.3 L484.3,116.5 L485.0,116.6 L485.8,116.8 L486.5,116.9 L487.2,117.0 L488.0,117.2 L488.7,117.3 L489.4,117.5 L490.2,117.6 L490.9,117.7 L491.7,117.9 L492.4,118.0 L493.1,118.1 L493.9,118.3 L494.6,118.4 L495.3,118.5 L496.1,118.6 L496.8,118.8 L497.6,118.9 L498.3,119.0 L499.0,119.1 L499.8,119.2 L500.5,119.3 L501.3,119.4 L502.0,119.5 L502.8,119.6 L503.5,119.7 L504.2,119.8 L505.0,119.9 L505.7,120.0 L506.5,120.0 L507.2,120.1 L508.0,120.2 L508.7,120.3 L509.4,120.3 L510.2,120.4 L510.9,120.5 L511.7,120.5 L512.4,120.6 L513.2,120.7 L513.9,120.7 L514.7,120.8 L515.4,120.8 L516.2,120.9 L516.9,121.0 L517.6,121.0 L518.4,121.1 L519.1,121.1 L519.9,121.1 L520.6,121.2 L521.4,121.2 L522.1,121.3 L522.9,121.3 L523.6,121.3 L524.4,121.4 L525.1,121.4 L525.9,121.4 L526.6,121.5 L527.4,121.5 L528.1,121.5 L528.9,121.5 L529.6,121.5 L530.4,121.6 L531.1,121.6 L531.9,121.6 L532.6,121.6 L533.4,121.6 L534.1,121.6 L534.9,121.6 L535.6,121.6 L536.4,121.6 L537.1,121.6 L537.9,121.6 L538.6,121.6 L539.4,121.6 L540.1,121.6 L540.9,121.6 L541.7,121.5 L542.4,121.5 L543.2,121.5 L543.9,121.5 L544.7,121.5 L545.4,121.4 L546.2,121.4 L546.9,121.4 L547.7,121.4 L548.4,121.4 L549.2,121.3 L549.9,121.3 L550.7,121.3 L551.4,121.3 L552.2,121.3 L553.0,121.2 L553.7,121.2 L554.5,121.2 L555.2,121.2 L556.0,121.2 L556.7,121.2 L557.5,121.2 L558.2,121.1 L559.0,121.1 L559.7,121.1 L560.5,121.1 L561.2,121.1 L562.0,121.1 L562.8,121.1 L563.5,121.1 L564.3,121.1 L565.0,121.2 L565.8,121.2 L566.5,121.2 L567.3,121.2 L568.0,121.2 L568.8,121.3 L569.5,121.3 L570.3,121.4 L571.1,121.4 L571.8,121.4 L572.6,121.5 L573.3,121.6 L574.1,121.6 L574.8,121.7 L575.6,121.8 L576.3,121.8 L577.1,121.9 L577.8,122.0 L578.6,122.1 L579.3,122.2 L580.1,122.3 L580.8,122.4 L581.6,122.5 L582.3,122.7 L583.0,122.8 L583.8,122.9 L584.5,123.1 L585.2,123.2 L586.0,123.4 L586.7,123.6 L587.4,123.7 L588.1,123.9 L588.9,124.1 L589.6,124.3 L590.3,124.5 L591.0,124.7 L591.7,125.0 L592.4,125.2 L593.1,125.4 L593.8,125.7 L594.5,125.9 L595.2,126.2 L595.8,126.5 L596.5,126.8 L597.2,127.0 L597.9,127.3 L598.5,127.7 L599.2,128.0 L599.8,128.3 L600.5,128.7 L601.1,129.0 L601.7,129.4 L602.3,129.7 L603.0,130.1 L603.6,130.5 L604.2,131.0 L604.8,131.4 L605.4,131.9 L606.0,132.3 L606.6,132.8 L607.1,133.3 L607.7,133.8 L608.3,134.3 L608.8,134.9 L609.4,135.4 L609.9,135.9 L610.5,136.5 L611.0,137.0 L611.6,137.6 L612.1,138.1 L612.7,138.7 L613.2,139.3 L613.8,139.8 L614.4,140.4 L614.9,141.0 L615.5,141.5 L616.0,142.1 L616.6,142.7 L617.1,143.3 L617.7,143.9 L618.2,144.5 L618.8,145.1 L619.3,145.7 L619.8,146.3 L620.4,146.9 L620.9,147.5 L621.4,148.1 L621.9,148.7 L622.4,149.3 L622.9,150.0 L623.4,150.6 L623.8,151.2 L624.3,151.8 L624.8,152.4 L625.2,153.0 L625.6,153.6 L626.1,154.2 L626.5,154.7 L627.0,155.3 L627.4,155.9 L627.9,156.5 L628.3,157.1 L628.7,157.7 L629.2,158.3 L629.6,158.9 L630.1,159.5 L630.5,160.1 L631.0,160.6 L631.4,161.2 L631.9,161.8 L632.3,162.4 L632.8,163.0 L633.2,163.5 L633.7,164.1 L634.2,164.7 L634.6,165.2 L635.1,165.8 L635.6,166.3 L636.0,166.9 L636.5,167.4 L637.0,168.0 L637.5,168.5 L637.9,169.1 L638.4,169.6 L638.9,170.2 L639.4,170.7 L639.9,171.2 L640.4,171.7 L640.9,172.2 L641.5,172.8 L642.0,173.3 L642.5,173.8 L643.1,174.3 L643.6,174.8 L644.2,175.2 L644.7,175.7 L645.3,176.2 L645.8,176.7 L646.4,177.2 L646.9,177.6 L647.5,178.1 L648.1,178.5 L648.7,179.0 L649.2,179.4 L649.8,179.9 L650.4,180.3 L651.0,180.8 L651.6,181.2 L652.2,181.6 L652.8,182.0 L653.4,182.5 L654.0,182.9 L654.6,183.3 L655.2,183.7 L655.8,184.1 L656.4,184.5 L657.0,184.9 L657.6,185.3 L658.3,185.7 L658.9,186.1 L659.5,186.5 L660.1,186.9 L660.8,187.3 L661.4,187.7 L662.0,188.1 L662.7,188.4 L663.3,188.8 L663.9,189.2 L664.6,189.6 L665.2,190.0 L665.8,190.4 L666.5,190.7 L667.1,191.1 L667.8,191.5 L668.4,191.9 L669.0,192.3 L669.7,192.6 L670.3,193.0 L671.0,193.4 L671.6,193.8 L672.3,194.2 L672.9,194.6 L673.5,195.0 L674.2,195.4 L674.8,195.8 L675.5,196.1 L676.1,196.5 L676.8,196.9 L677.4,197.3 L678.0,197.8 L678.7,198.2 L679.3,198.6 L679.9,199.0 L680.6,199.4 L681.2,199.8 L681.8,200.3 L682.5,200.7 L683.1,201.1 L683.7,201.6 L684.4,202.0 L685.0,202.5 L685.6,202.9 L686.2,203.3 L686.9,203.8 L687.5,204.2 L688.1,204.7 L688.7,205.1 L689.3,205.5 L689.9,206.0 L690.6,206.4 L691.2,206.8 L691.8,207.3 L692.4,207.7 L693.0,208.1 L693.6,208.5 L694.2,209.0 L694.8,209.4 L695.4,209.8 L696.0,210.2 L696.6,210.6 L697.2,211.0 L697.8,211.4 L698.4,211.8 L698.8,212.1" stroke="#2e5fdc"/>
<path d="M395.1,116.9 L395.7,117.2 L396.4,117.6 L397.1,117.9 L397.7,118.3 L398.4,118.6 L399.1,119.0 L399.7,119.3 L400.4,119.7 L401.1,120.0 L401.7,120.3 L402.4,120.7 L403.1,121.0 L403.7,121.3 L404.4,121.7 L405.1,122.0 L405.8,122.3 L406.5,122.7 L407.1,123.0 L407.8,123.3 L408.5,123.6 L409.2,123.9 L409.9,124.3 L410.5,124.6 L411.2,124.9 L411.9,125.2 L412.6,125.5 L413.3,125.8 L414.0,126.1 L414.6,126.4 L415.3,126.7 L416.0,127.0 L416.7,127.3 L417.4,127.6 L418.1,127.9 L418.8,128.2 L419.5,128.5 L420.2,128.8 L420.9,129.1 L421.6,129.4 L422.3,129.6 L423.0,129.9 L423.7,130.2 L424.4,130.5 L425.1,130.8 L425.8,131.0 L426.5,131.3 L427.2,131.6 L427.9,131.8 L428.6,132.1 L429.3,132.4 L430.0,132.6 L430.7,132.9 L431.4,133.1 L432.1,133.4 L432.8,133.6 L433.5,133.9 L434.2,134.1 L435.0,134.4 L435.7,134.6 L436.4,134.9 L437.1,135.1 L437.8,135.4 L438.5,135.6 L439.2,135.8 L439.9,136.1 L440.7,136.3 L441.4,136.5 L442.1,136.7 L442.8,137.0 L443.5,137.2 L444.3,137.4 L445.0,137.6 L445.7,137.9 L446.4,138.1 L447.1,138.3 L447.9,138.5 L448.6,138.7 L449.3,138.9 L450.0,139.1 L450.8,139.3 L451.5,139.5 L452.2,139.7 L452.9,139.9 L453.7,140.1 L454.4,140.3 L455.1,140.5 L455.8,140.7 L456.6,140.9 L457.3,141.1 L458.0,141.3 L458.8,141.5 L459.5,141.6 L460.2,141.8 L460.9,142.0 L461.7,142.2 L462.4,142.4 L463.1,142.5 L463.9,142.7 L464.6,142.9 L465.3,143.0 L466.1,143.2 L466.8,143.4 L467.5,143.6 L468.3,143.7 L469.0,143.9 L469.8,144.1 L470.5,144.2 L471.2,144.4 L472.0,144.6 L472.7,144.7 L473.4,144.9 L474.2,145.1 L474.9,145.2 L475.7,145.4 L476.4,145.6 L477.1,145.7 L477.9,145.9 L478.6,146.0 L479.4,146.2 L480.1,146.3 L480.8,146.5 L481.6,146.6 L482.3,146.8 L483.1,146.9 L483.8,147.1 L484.5,147.2 L485.3,147.3 L486.0,147.5 L486.8,147.6 L487.5,147.7 L488.3,147.9 L489.0,148.0 L489.7,148.1 L490.5,148.2 L491.2,148.4 L492.0,148.5 L492.7,148.6 L493.5,148.7 L494.2,148.8 L495.0,148.9 L495.7,149.1 L496.4,149.2 L497.2,149.2 L497.9,149.3 L498.7,149.4 L499.4,149.5 L500.2,149.6 L500.9,149.7 L501.7,149.8 L502.4,149.9 L503.2,149.9 L503.9,150.0 L504.7,150.1 L505.4,150.2 L506.1,150.2 L506.9,150.3 L507.6,150.4 L508.4,150.4 L509.1,150.5 L509.9,150.6 L510.6,150.6 L511.4,150.7 L512.1,150.7 L512.9,150.8 L513.6,150.9 L514.4,150.9 L515.1,151.0 L515.9,151.0 L516.6,151.1 L517.3,151.1 L518.1,151.1 L518.8,151.2 L519.6,151.2 L520.3,151.3 L521.1,151.3 L521.8,151.3 L522.6,151.4 L523.3,151.4 L524.1,151.4 L524.8,151.5 L525.6,151.5 L526.3,151.5 L527.0,151.5 L527.8,151.6 L528.5,151.6 L529.3,151.6 L530.0,151.6 L530.8,151.6 L531.5,151.6 L532.3,151.6 L533.0,151.7 L533.7,151.7 L534.5,151.7 L535.2,151.7 L536.0,151.7 L536.7,151.7 L537.5,151.7 L538.2,151.7 L539.0,151.7 L539.7,151.7 L540.4,151.7 L541.2,151.7 L541.9,151.6 L542.7,151.6 L543.4,151.6 L544.2,151.6 L544.9,151.6 L545.6,151.6 L546.4,151.6 L547.1,151.6 L547.9,151.5 L548.6,151.5 L549.4,151.5 L550.1,151.5 L550.9,151.5 L551.6,151.4 L552.3,151.4 L553.1,151.4 L553.8,151.4 L554.6,151.4 L555.3,151.3 L556.1,151.3 L556.8,151.3 L557.6,151.3 L558.3,151.2 L559.1,151.2 L559.8,151.2 L560.6,151.2 L561.3,151.1 L562.1,151.1 L562.9,151.1 L563.6,151.1 L564.4,151.0 L565.1,151.0 L565.9,151.0 L566.6,151.0 L567.4,150.9 L568.2,150.9 L568.9,150.9 L569.7,150.9 L570.4,150.8 L571.2,150.8 L572.0,150.8 L572.7,150.8 L573.5,150.7 L574.3,150.7 L575.0,150.7 L575.8,150.7 L576.6,150.6 L577.3,150.6 L578.1,150.6 L578.9,150.6 L579.6,150.6 L580.4,150.6 L581.2,150.6 L582.0,150.6 L582.7,150.6 L583.5,150.6 L584.2,150.6 L585.0,150.6 L585.8,150.6 L586.5,150.7 L587.3,150.7 L588.1,150.7 L588.8,150.8 L589.6,150.8 L590.3,150.9 L591.1,151.0 L591.8,151.0 L592.6,151.1 L593.3,151.2 L594.1,151.3 L594.8,151.4 L595.5,151.5 L596.3,151.6 L597.0,151.7 L597.7,151.9 L598.5,152.0 L599.2,152.2 L599.9,152.3 L600.6,152.5 L601.3,152.6 L602.0,152.8 L602.7,153.0 L603.4,153.1 L604.1,153.3 L604.8,153.5 L605.5,153.7 L606.2,154.0 L606.9,154.2 L607.5,154.5 L608.2,154.7 L608.9,155.0 L609.5,155.3 L610.2,155.6 L610.8,156.0 L611.5,156.3 L612.1,156.7 L612.7,157.0 L613.4,157.4 L614.0,157.8 L614.6,158.3 L615.2,158.7 L615.8,159.1 L616.4,159.6 L617.0,160.0 L617.6,160.5 L618.2,160.9 L618.8,161.4 L619.3,161.9 L619.9,162.4 L620.5,162.9 L621.0,163.4 L621.6,163.9 L622.1,164.5 L622.7,165.0 L623.2,165.5 L623.7,166.1 L624.2,166.6 L624.8,167.2 L625.3,167.7 L625.8,168.3 L626.3,168.9 L626.8,169.4 L627.3,170.0 L627.7,170.6 L628.2,171.2 L628.7,171.8 L629.1,172.4 L629.6,173.0 L630.0,173.6 L630.5,174.2 L630.9,174.8 L631.4,175.4 L631.8,176.0 L632.2,176.6 L632.7,177.2 L633.1,177.8 L633.5,178.4 L633.9,179.0 L634.4,179.6 L634.8,180.2 L635.2,180.9 L635.6,181.5 L636.0,182.1 L636.5,182.7 L636.9,183.3 L637.3,183.9 L637.8,184.5 L638.2,185.1 L638.6,185.7 L639.1,186.3 L639.5,186.9 L639.9,187.5 L640.4,188.1 L640.8,188.7 L641.3,189.2 L641.7,189.8 L642.2,190.4 L642.6,190.9 L643.1,191.5 L643.6,192.1 L644.0,192.6 L644.5,193.2 L645.0,193.7 L645.5,194.3 L646.0,194.8 L646.5,195.3 L647.0,195.9 L647.5,196.4 L648.0,196.9 L648.5,197.4 L649.1,198.0 L649.6,198.5 L650.1,199.0 L650.6,199.5 L651.2,200.0 L651.7,200.5 L652.3,201.0 L652.8,201.5 L653.4,201.9 L653.9,202.4 L654.5,202.9 L655.1,203.4 L655.6,203.8 L656.2,204.3 L656.8,204.8 L657.4,205.2 L658.0,205.7 L658.6,206.1 L659.1,206.6 L659.7,207.0 L660.3,207.5 L660.9,207.9 L661.5,208.4 L662.1,208.8 L662.7,209.2 L663.3,209.7 L663.9,210.1 L664.5,210.5 L665.1,210.9 L665.8,211.4 L666.4,211.8 L667.0,212.2 L667.7,212.6 L668.3,213.0 L668.9,213.4 L669.6,213.9 L670.3,214.3 L670.9,214.7 L671.6,215.1 L672.3,215.5 L672.9,216.0 L673.6,216.4 L674.2,216.8 L674.9,217.2 L675.6,217.6 L676.2,218.1 L676.9,218.5 L677.5,218.9 L678.2,219.4 L678.8,219.8 L679.5,220.2 L680.1,220.7 L680.8,221.1 L681.4,221.5 L682.0,222.0 L682.7,222.4 L683.3,222.9 L683.9,223.4 L684.5,223.8 L685.1,224.3 L685.7,224.8 L686.3,225.2 L686.8,225.7 L687.4,226.2 L688.0,226.7 L688.6,227.2 L689.0,227.5" stroke="#00960f"/>
<path d="M395.0,129.7 L395.7,130.0 L396.3,130.3 L397.0,130.6 L397.7,130.9 L398.4,131.3 L399.1,131.6 L399.7,131.9 L400.4,132.2 L401.1,132.5 L401.8,132.8 L402.5,133.1 L403.2,133.4 L403.9,133.7 L404.5,134.1 L405.2,134.4 L405.9,134.7 L406.6,135.0 L407.3,135.3 L408.0,135.6 L408.7,135.9 L409.4,136.2 L410.0,136.5 L410.7,136.8 L411.4,137.1 L412.1,137.4 L412.8,137.7 L413.5,138.0 L414.2,138.3 L414.9,138.6 L415.6,138.8 L416.3,139.1 L417.0,139.4 L417.7,139.7 L418.4,140.0 L419.1,140.3 L419.8,140.6 L420.5,140.9 L421.2,141.1 L421.9,141.4 L422.6,141.7 L423.3,142.0 L424.0,142.2 L424.7,142.5 L425.4,142.8 L426.1,143.1 L426.8,143.3 L427.5,143.6 L428.2,143.9 L428.9,144.1 L429.6,144.4 L430.3,144.7 L431.0,144.9 L431.7,145.2 L432.5,145.4 L433.2,145.7 L433.9,146.0 L434.6,146.2 L435.3,146.5 L436.0,146.7 L436.7,147.0 L437.4,147.2 L438.1,147.4 L438.9,147.7 L439.6,147.9 L440.3,148.2 L441.0,148.4 L441.7,148.6 L442.4,148.9 L443.1,149.1 L443.9,149.3 L444.6,149.6 L445.3,149.8 L446.0,150.0 L446.7,150.2 L447.5,150.4 L448.2,150.7 L448.9,150.9 L449.6,151.1 L450.3,151.3 L451.1,151.5 L451.8,151.8 L452.5,152.0 L453.2,152.2 L453.9,152.4 L454.7,152.6 L455.4,152.8 L456.1,153.0 L456.8,153.2 L457.6,153.4 L458.3,153.6 L459.0,153.8 L459.7,154.0 L460.5,154.2 L461.2,154.4 L461.9,154.6 L462.7,154.8 L463.4,155.0 L464.1,155.1 L464.8,155.3 L465.6,155.5 L466.3,155.7 L467.0,155.8 L467.8,156.0 L468.5,156.2 L469.2,156.3 L470.0,156.5 L470.7,156.7 L471.4,156.8 L472.2,157.0 L472.9,157.1 L473.6,157.3 L474.4,157.4 L475.1,157.6 L475.8,157.7 L476.6,157.8 L477.3,158.0 L478.0,158.1 L478.8,158.2 L479.5,158.4 L480.2,158.5 L481.0,158.6 L481.7,158.8 L482.5,158.9 L483.2,159.0 L483.9,159.1 L484.7,159.2 L485.4,159.3 L486.2,159.5 L486.9,159.6 L487.6,159.7 L488.4,159.8 L489.1,159.9 L489.9,160.0 L490.6,160.1 L491.3,160.1 L492.1,160.2 L492.8,160.3 L493.6,160.4 L494.3,160.5 L495.1,160.5 L495.8,160.6 L496.5,160.7 L497.3,160.7 L498.0,160.8 L498.8,160.9 L499.5,160.9 L500.3,161.0 L501.0,161.0 L501.8,161.1 L502.5,161.1 L503.3,161.2 L504.0,161.3 L504.8,161.3 L505.5,161.3 L506.2,161.4 L507.0,161.4 L507.7,161.5 L508.5,161.5 L509.2,161.6 L510.0,161.6 L510.7,161.6 L511.5,161.7 L512.2,161.7 L513.0,161.7 L513.7,161.7 L514.5,161.8 L515.2,161.8 L516.0,161.8 L516.7,161.8 L517.5,161.9 L518.2,161.9 L519.0,161.9 L519.8,161.9 L520.5,161.9 L521.3,161.9 L522.0,162.0 L522.8,162.0 L523.5,162.0 L524.3,162.0 L525.0,162.0 L525.8,162.0 L526.5,162.0 L527.3,162.0 L528.0,162.0 L528.8,162.0 L529.5,162.0 L530.3,162.0 L531.1,162.0 L531.8,162.0 L532.6,162.0 L533.3,162.0 L534.1,161.9 L534.8,161.9 L535.6,161.9 L536.3,161.9 L537.1,161.9 L537.9,161.9 L538.6,161.9 L539.4,161.8 L540.1,161.8 L540.9,161.8 L541.6,161.8 L542.4,161.8 L543.2,161.7 L543.9,161.7 L544.7,161.7 L545.4,161.7 L546.2,161.6 L546.9,161.6 L547.7,161.6 L548.5,161.5 L549.2,161.5 L550.0,161.5 L550.7,161.4 L551.5,161.4 L552.2,161.4 L553.0,161.3 L553.8,161.3 L554.5,161.2 L555.3,161.2 L556.0,161.2 L556.8,161.1 L557.5,161.1 L558.3,161.0 L559.0,161.0 L559.8,160.9 L560.6,160.9 L561.3,160.9 L562.1,160.8 L562.8,160.8 L563.6,160.7 L564.3,160.7 L565.1,160.6 L565.8,160.6 L566.6,160.5 L567.3,160.5 L568.1,160.4 L568.8,160.3 L569.6,160.3 L570.3,160.2 L571.1,160.2 L571.8,160.1 L572.6,160.1 L573.3,160.0 L574.1,159.9 L574.8,159.9 L575.6,159.8 L576.3,159.8 L577.1,159.7 L577.8,159.6 L578.6,159.6 L579.3,159.5 L580.1,159.5 L580.8,159.4 L581.6,159.4 L582.3,159.3 L583.0,159.3 L583.8,159.2 L584.5,159.2 L585.3,159.2 L586.0,159.1 L586.8,159.1 L587.5,159.1 L588.2,159.0 L589.0,159.0 L589.7,159.0 L590.4,159.0 L591.2,158.9 L591.9,158.9 L592.7,158.9 L593.4,158.9 L594.1,158.9 L594.9,158.9 L595.6,158.9 L596.3,158.9 L597.0,158.9 L597.8,158.9 L598.5,159.0 L599.2,159.0 L600.0,159.0 L600.7,159.1 L601.4,159.1 L602.1,159.2 L602.9,159.2 L603.6,159.3 L604.3,159.4 L605.0,159.5 L605.8,159.6 L606.5,159.7 L607.2,159.8 L607.9,160.0 L608.6,160.1 L609.3,160.3 L610.1,160.4 L610.8,160.6 L611.5,160.9 L612.2,161.1 L612.9,161.3 L613.6,161.6 L614.3,161.9 L615.0,162.2 L615.7,162.5 L616.4,162.8 L617.1,163.2 L617.8,163.5 L618.5,163.9 L619.1,164.2 L619.8,164.6 L620.5,165.0 L621.1,165.4 L621.8,165.9 L622.4,166.3 L623.1,166.8 L623.7,167.3 L624.4,167.7 L625.0,168.2 L625.6,168.7 L626.2,169.2 L626.8,169.7 L627.4,170.2 L628.0,170.7 L628.6,171.3 L629.2,171.8 L629.7,172.3 L630.3,172.8 L630.8,173.4 L631.4,173.9 L631.9,174.5 L632.4,175.0 L632.9,175.6 L633.4,176.1 L633.9,176.7 L634.4,177.2 L634.9,177.8 L635.3,178.4 L635.8,179.0 L636.2,179.5 L636.7,180.1 L637.1,180.7 L637.6,181.3 L638.0,181.9 L638.4,182.5 L638.9,183.1 L639.3,183.7 L639.8,184.3 L640.2,184.9 L640.6,185.5 L641.1,186.1 L641.5,186.7 L642.0,187.3 L642.4,187.9 L642.9,188.5 L643.3,189.1 L643.8,189.7 L644.2,190.3 L644.7,190.9 L645.1,191.5 L645.6,192.0 L646.0,192.6 L646.5,193.2 L647.0,193.8 L647.4,194.4 L647.9,194.9 L648.3,195.5 L648.8,196.1 L649.3,196.7 L649.8,197.2 L650.2,197.8 L650.7,198.4 L651.2,198.9 L651.7,199.5 L652.2,200.0 L652.7,200.6 L653.1,201.2 L653.6,201.7 L654.1,202.3 L654.6,202.8 L655.1,203.4 L655.6,203.9 L656.1,204.5 L656.6,205.0 L657.2,205.5 L657.7,206.1 L658.2,206.6 L658.7,207.1 L659.2,207.7 L659.7,208.2 L660.3,208.7 L660.8,209.2 L661.4,209.8 L661.9,210.3 L662.5,210.8 L663.1,211.3 L663.7,211.8 L664.3,212.3 L664.8,212.8 L665.4,213.3 L666.0,213.8 L666.6,214.3 L667.2,214.8 L667.8,215.3 L668.4,215.8 L669.0,216.3 L669.7,216.8 L670.3,217.2 L670.9,217.7 L671.5,218.2 L672.1,218.7 L672.7,219.2 L673.3,219.7 L673.9,220.1 L674.5,220.6 L675.1,221.1 L675.6,221.6 L676.2,222.1 L676.8,222.6 L677.4,223.0 L677.9,223.5 L678.5,224.0 L679.0,224.5 L679.6,225.0 L680.1,225.5 L680.6,226.0 L681.2,226.5 L681.7,227.0 L682.0,227.3" stroke="#ff9600"/>
<path d="M395.1,150.6 L395.8,150.9 L396.4,151.2 L397.1,151.5 L397.7,151.8 L398.4,152.1 L399.1,152.3 L399.7,152.6 L400.4,152.9 L401.1,153.2 L401.7,153.5 L402.4,153.8 L403.1,154.1 L403.8,154.4 L404.4,154.6 L405.1,154.9 L405.8,155.2 L406.5,155.5 L407.1,155.8 L407.8,156.1 L408.5,156.4 L409.2,156.7 L409.9,157.0 L410.6,157.3 L411.2,157.6 L411.9,157.9 L412.6,158.2 L413.3,158.5 L414.0,158.8 L414.7,159.1 L415.4,159.4 L416.1,159.7 L416.7,160.0 L417.4,160.3 L418.1,160.6 L418.8,160.9 L419.5,161.2 L420.2,161.4 L420.9,161.7 L421.6,162.0 L422.3,162.3 L423.0,162.6 L423.7,162.9 L424.4,163.2 L425.1,163.5 L425.8,163.8 L426.5,164.0 L427.2,164.3 L427.9,164.6 L428.6,164.9 L429.3,165.2 L430.0,165.5 L430.7,165.7 L431.5,166.0 L432.2,166.3 L432.9,166.6 L433.6,166.8 L434.3,167.1 L435.0,167.4 L435.7,167.6 L436.4,167.9 L437.1,168.1 L437.9,168.4 L438.6,168.6 L439.3,168.9 L440.0,169.1 L440.7,169.4 L441.4,169.6 L442.2,169.8 L442.9,170.1 L443.6,170.3 L444.3,170.5 L445.0,170.7 L445.8,170.9 L446.5,171.1 L447.2,171.3 L447.9,171.6 L448.7,171.8 L449.4,172.0 L450.1,172.1 L450.8,172.3 L451.6,172.5 L452.3,172.7 L453.0,172.9 L453.7,173.1 L454.5,173.3 L455.2,173.5 L455.9,173.6 L456.7,173.8 L457.4,174.0 L458.1,174.2 L458.9,174.4 L459.6,174.6 L460.3,174.7 L461.1,174.9 L461.8,175.1 L462.5,175.3 L463.3,175.4 L464.0,175.6 L464.7,175.8 L465.5,175.9 L466.2,176.1 L466.9,176.2 L467.7,176.4 L468.4,176.5 L469.2,176.7 L469.9,176.8 L470.6,177.0 L471.4,177.1 L472.1,177.2 L472.8,177.4 L473.6,177.5 L474.3,177.6 L475.1,177.8 L475.8,177.9 L476.5,178.0 L477.3,178.1 L478.0,178.2 L478.8,178.4 L479.5,178.5 L480.3,178.6 L481.0,178.7 L481.7,178.8 L482.5,178.9 L483.2,179.0 L484.0,179.1 L484.7,179.2 L485.5,179.3 L486.2,179.4 L487.0,179.5 L487.7,179.6 L488.4,179.7 L489.2,179.7 L489.9,179.8 L490.7,179.9 L491.4,180.0 L492.2,180.1 L492.9,180.1 L493.7,180.2 L494.4,180.3 L495.2,180.3 L495.9,180.4 L496.7,180.5 L497.4,180.5 L498.2,180.6 L498.9,180.7 L499.7,180.7 L500.4,180.8 L501.2,180.8 L501.9,180.9 L502.6,180.9 L503.4,180.9 L504.1,181.0 L504.9,181.0 L505.6,181.0 L506.4,181.0 L507.1,181.1 L507.9,181.1 L508.6,181.1 L509.4,181.1 L510.1,181.1 L510.9,181.1 L511.6,181.1 L512.4,181.1 L513.1,181.2 L513.9,181.2 L514.6,181.2 L515.4,181.2 L516.1,181.2 L516.9,181.2 L517.6,181.2 L518.4,181.2 L519.1,181.2 L519.9,181.2 L520.6,181.2 L521.4,181.2 L522.1,181.1 L522.9,181.1 L523.6,181.1 L524.4,181.1 L525.1,181.1 L525.9,181.1 L526.6,181.1 L527.4,181.1 L528.1,181.0 L528.9,181.0 L529.6,181.0 L530.4,181.0 L531.1,181.0 L531.9,180.9 L532.6,180.9 L533.4,180.9 L534.1,180.8 L534.9,180.8 L535.6,180.8 L536.4,180.8 L537.1,180.7 L537.9,180.7 L538.6,180.6 L539.3,180.6 L540.1,180.6 L540.8,180.5 L541.6,180.5 L542.3,180.5 L543.1,180.4 L543.8,180.4 L544.6,180.3 L545.3,180.3 L546.1,180.2 L546.8,180.2 L547.6,180.1 L548.3,180.1 L549.1,180.0 L549.8,180.0 L550.6,179.9 L551.3,179.9 L552.1,179.8 L552.8,179.8 L553.6,179.7 L554.3,179.6 L555.1,179.6 L555.8,179.5 L556.6,179.4 L557.3,179.4 L558.1,179.3 L558.8,179.2 L559.6,179.2 L560.3,179.1 L561.1,179.0 L561.8,178.9 L562.6,178.8 L563.3,178.8 L564.1,178.7 L564.8,178.6 L565.6,178.5 L566.3,178.4 L567.1,178.4 L567.8,178.3 L568.6,178.2 L569.3,178.1 L570.1,178.0 L570.8,178.0 L571.6,177.9 L572.3,177.8 L573.1,177.7 L573.8,177.6 L574.6,177.6 L575.3,177.5 L576.1,177.4 L576.8,177.3 L577.6,177.3 L578.3,177.2 L579.1,177.1 L579.8,177.0 L580.6,177.0 L581.3,176.9 L582.1,176.8 L582.8,176.8 L583.6,176.7 L584.3,176.7 L585.1,176.6 L585.8,176.6 L586.6,176.5 L587.3,176.5 L588.1,176.4 L588.8,176.4 L589.6,176.3 L590.3,176.3 L591.1,176.3 L591.8,176.2 L592.6,176.2 L593.3,176.2 L594.1,176.2 L594.8,176.1 L595.6,176.1 L596.3,176.1 L597.1,176.1 L597.8,176.1 L598.6,176.1 L599.3,176.1 L600.1,176.1 L600.8,176.1 L601.6,176.2 L602.3,176.2 L603.1,176.2 L603.8,176.3 L604.6,176.3 L605.3,176.3 L606.1,176.4 L606.8,176.4 L607.6,176.5 L608.3,176.6 L609.1,176.6 L609.8,176.7 L610.6,176.8 L611.4,176.9 L612.1,177.0 L612.8,177.1 L613.6,177.2 L614.3,177.3 L615.1,177.5 L615.8,177.6 L616.5,177.8 L617.3,177.9 L618.0,178.1 L618.7,178.3 L619.5,178.5 L620.2,178.7 L620.9,178.9 L621.6,179.2 L622.3,179.4 L623.0,179.7 L623.7,179.9 L624.4,180.2 L625.1,180.5 L625.8,180.8 L626.5,181.1 L627.2,181.5 L627.8,181.8 L628.5,182.2 L629.2,182.5 L629.8,182.9 L630.5,183.3 L631.1,183.7 L631.8,184.1 L632.4,184.5 L633.0,184.9 L633.7,185.4 L634.3,185.8 L634.9,186.3 L635.5,186.8 L636.1,187.2 L636.7,187.7 L637.3,188.2 L637.9,188.7 L638.4,189.2 L639.0,189.7 L639.5,190.2 L640.1,190.7 L640.6,191.3 L641.1,191.8 L641.5,192.4 L642.0,192.9 L642.4,193.5 L642.9,194.0 L643.3,194.6 L643.7,195.1 L644.1,195.7 L644.5,196.3 L644.9,196.9 L645.3,197.4 L645.7,198.0 L646.1,198.6 L646.5,199.2 L646.8,199.8 L647.2,200.4 L647.6,201.0 L648.0,201.6 L648.3,202.2 L648.7,202.8 L649.1,203.4 L649.4,204.0 L649.8,204.6 L650.2,205.2 L650.6,205.9 L650.9,206.5 L651.3,207.1 L651.7,207.7 L652.1,208.3 L652.5,208.9 L652.9,209.5 L653.4,210.2 L653.8,210.8 L654.2,211.4 L654.6,212.0 L655.0,212.6 L655.5,213.2 L655.9,213.9 L656.3,214.5 L656.8,215.1 L657.2,215.7 L657.7,216.3 L658.1,216.9 L658.6,217.5 L659.1,218.1 L659.5,218.7 L660.0,219.3 L660.5,219.9 L661.0,220.5 L661.5,221.1 L662.0,221.7 L662.5,222.3 L663.0,222.9 L663.5,223.5 L664.0,224.1 L664.4,224.7 L664.9,225.2 L665.3,225.8 L665.7,226.4 L666.1,227.0 L666.5,227.5 L666.6,227.7" stroke="#9b42b8"/>
</g>
<rect x="39.20" y="0" width="297.80" height="1.7" fill="#383838"/>
<g stroke="#000" fill="none"><path d="M39.90,173.84h5.6M336.30,173.84h-5.6M39.90,124.33h5.6M336.30,124.33h-5.6M39.90,74.82h5.6M336.30,74.82h-5.6M39.90,25.31h5.6M336.30,25.31h-5.6M99.18,223.35v-5.6M158.46,223.35v-5.6M217.74,223.35v-5.6M277.02,223.35v-5.6" stroke-width="1.1"/><path d="M39.90,208.45h3.1M336.30,208.45h-3.1M39.90,199.73h3.1M336.30,199.73h-3.1M39.90,193.54h3.1M336.30,193.54h-3.1M39.90,188.74h3.1M336.30,188.74h-3.1M39.90,184.82h3.1M336.30,184.82h-3.1M39.90,181.51h3.1M336.30,181.51h-3.1M39.90,178.64h3.1M336.30,178.64h-3.1M39.90,176.11h3.1M336.30,176.11h-3.1M39.90,158.94h3.1M336.30,158.94h-3.1M39.90,150.22h3.1M336.30,150.22h-3.1M39.90,144.03h3.1M336.30,144.03h-3.1M39.90,139.23h3.1M336.30,139.23h-3.1M39.90,135.31h3.1M336.30,135.31h-3.1M39.90,132.00h3.1M336.30,132.00h-3.1M39.90,129.13h3.1M336.30,129.13h-3.1M39.90,126.60h3.1M336.30,126.60h-3.1M39.90,109.43h3.1M336.30,109.43h-3.1M39.90,100.71h3.1M336.30,100.71h-3.1M39.90,94.52h3.1M336.30,94.52h-3.1M39.90,89.72h3.1M336.30,89.72h-3.1M39.90,85.80h3.1M336.30,85.80h-3.1M39.90,82.49h3.1M336.30,82.49h-3.1M39.90,79.62h3.1M336.30,79.62h-3.1M39.90,77.09h3.1M336.30,77.09h-3.1M39.90,59.92h3.1M336.30,59.92h-3.1M39.90,51.20h3.1M336.30,51.20h-3.1M39.90,45.01h3.1M336.30,45.01h-3.1M39.90,40.21h3.1M336.30,40.21h-3.1M39.90,36.29h3.1M336.30,36.29h-3.1M39.90,32.98h3.1M336.30,32.98h-3.1M39.90,30.11h3.1M336.30,30.11h-3.1M39.90,27.58h3.1M336.30,27.58h-3.1M39.90,10.41h3.1M336.30,10.41h-3.1M39.90,1.69h3.1M336.30,1.69h-3.1M57.75,223.35v-3.1M68.18,223.35v-3.1M75.59,223.35v-3.1M81.33,223.35v-3.1M86.03,223.35v-3.1M90.00,223.35v-3.1M93.44,223.35v-3.1M96.47,223.35v-3.1M117.03,223.35v-3.1M127.46,223.35v-3.1M134.87,223.35v-3.1M140.61,223.35v-3.1M145.31,223.35v-3.1M149.28,223.35v-3.1M152.72,223.35v-3.1M155.75,223.35v-3.1M176.31,223.35v-3.1M186.74,223.35v-3.1M194.15,223.35v-3.1M199.89,223.35v-3.1M204.59,223.35v-3.1M208.56,223.35v-3.1M212.00,223.35v-3.1M215.03,223.35v-3.1M235.59,223.35v-3.1M246.02,223.35v-3.1M253.43,223.35v-3.1M259.17,223.35v-3.1M263.87,223.35v-3.1M267.84,223.35v-3.1M271.28,223.35v-3.1M274.31,223.35v-3.1M294.87,223.35v-3.1M305.30,223.35v-3.1M312.71,223.35v-3.1M318.45,223.35v-3.1M323.15,223.35v-3.1M327.12,223.35v-3.1M330.56,223.35v-3.1M333.59,223.35v-3.1" stroke-width="1.0"/><path d="M39.90,0.7V223.35H336.30V0.7" stroke-width="1.4" stroke-linecap="square"/></g>
<text x="21.70" y="226.65" font-size="11.3" textLength="11.00" lengthAdjust="spacingAndGlyphs" stroke="#000" stroke-width="0.25">10</text>
<text x="33.30" y="223.35" font-size="7.5" textLength="3.20" lengthAdjust="spacingAndGlyphs" stroke="#000" stroke-width="0.25">1</text>
<text x="21.70" y="177.14" font-size="11.3" textLength="11.00" lengthAdjust="spacingAndGlyphs" stroke="#000" stroke-width="0.25">10</text>
<text x="33.30" y="173.84" font-size="7.5" textLength="3.20" lengthAdjust="spacingAndGlyphs" stroke="#000" stroke-width="0.25">2</text>
<text x="21.70" y="127.63" font-size="11.3" textLength="11.00" lengthAdjust="spacingAndGlyphs" stroke="#000" stroke-width="0.25">10</text>
<text x="33.30" y="124.33" font-size="7.5" textLength="3.20" lengthAdjust="spacingAndGlyphs" stroke="#000" stroke-width="0.25">3</text>
<text x="21.70" y="78.12" font-size="11.3" textLength="11.00" lengthAdjust="spacingAndGlyphs" stroke="#000" stroke-width="0.25">10</text>
<text x="33.30" y="74.82" font-size="7.5" textLength="3.20" lengthAdjust="spacingAndGlyphs" stroke="#000" stroke-width="0.25">4</text>
<text x="21.70" y="28.61" font-size="11.3" textLength="11.00" lengthAdjust="spacingAndGlyphs" stroke="#000" stroke-width="0.25">10</text>
<text x="33.30" y="25.31" font-size="7.5" textLength="3.20" lengthAdjust="spacingAndGlyphs" stroke="#000" stroke-width="0.25">5</text>
<text x="32.50" y="235.70" font-size="11.3" textLength="11.00" lengthAdjust="spacingAndGlyphs" stroke="#000" stroke-width="0.25">10</text>
<text x="44.00" y="232.30" font-size="7.5" textLength="3.30" lengthAdjust="spacingAndGlyphs" stroke="#000" stroke-width="0.25">5</text>
<text x="91.78" y="235.70" font-size="11.3" textLength="11.00" lengthAdjust="spacingAndGlyphs" stroke="#000" stroke-width="0.25">10</text>
<text x="103.28" y="232.30" font-size="7.5" textLength="3.30" lengthAdjust="spacingAndGlyphs" stroke="#000" stroke-width="0.25">6</text>
<text x="151.06" y="235.70" font-size="11.3" textLength="11.00" lengthAdjust="spacingAndGlyphs" stroke="#000" stroke-width="0.25">10</text>
<text x="162.56" y="232.30" font-size="7.5" textLength="3.30" lengthAdjust="spacingAndGlyphs" stroke="#000" stroke-width="0.25">7</text>
<text x="210.34" y="235.70" font-size="11.3" textLength="11.00" lengthAdjust="spacingAndGlyphs" stroke="#000" stroke-width="0.25">10</text>
<text x="221.84" y="232.30" font-size="7.5" textLength="3.30" lengthAdjust="spacingAndGlyphs" stroke="#000" stroke-width="0.25">8</text>
<text x="269.62" y="235.70" font-size="11.3" textLength="11.00" lengthAdjust="spacingAndGlyphs" stroke="#000" stroke-width="0.25">10</text>
<text x="281.12" y="232.30" font-size="7.5" textLength="3.30" lengthAdjust="spacingAndGlyphs" stroke="#000" stroke-width="0.25">9</text>
<text x="327.25" y="235.70" font-size="11.3" textLength="11.00" lengthAdjust="spacingAndGlyphs" stroke="#000" stroke-width="0.25">10</text>
<text x="338.75" y="232.30" font-size="7.5" textLength="6.60" lengthAdjust="spacingAndGlyphs" stroke="#000" stroke-width="0.25">10</text>
<rect x="397.20" y="0" width="299.40" height="1.7" fill="#383838"/>
<g stroke="#000" fill="none"><path d="M397.90,174.58h5.6M695.90,174.58h-5.6M397.90,125.01h5.6M695.90,125.01h-5.6M397.90,75.44h5.6M695.90,75.44h-5.6M397.90,25.87h5.6M695.90,25.87h-5.6M497.23,224.15v-5.6M596.57,224.15v-5.6" stroke-width="1.1"/><path d="M397.90,209.23h3.1M695.90,209.23h-3.1M397.90,200.50h3.1M695.90,200.50h-3.1M397.90,194.31h3.1M695.90,194.31h-3.1M397.90,189.50h3.1M695.90,189.50h-3.1M397.90,185.58h3.1M695.90,185.58h-3.1M397.90,182.26h3.1M695.90,182.26h-3.1M397.90,179.38h3.1M695.90,179.38h-3.1M397.90,176.85h3.1M695.90,176.85h-3.1M397.90,159.66h3.1M695.90,159.66h-3.1M397.90,150.93h3.1M695.90,150.93h-3.1M397.90,144.74h3.1M695.90,144.74h-3.1M397.90,139.93h3.1M695.90,139.93h-3.1M397.90,136.01h3.1M695.90,136.01h-3.1M397.90,132.69h3.1M695.90,132.69h-3.1M397.90,129.81h3.1M695.90,129.81h-3.1M397.90,127.28h3.1M695.90,127.28h-3.1M397.90,110.09h3.1M695.90,110.09h-3.1M397.90,101.36h3.1M695.90,101.36h-3.1M397.90,95.17h3.1M695.90,95.17h-3.1M397.90,90.36h3.1M695.90,90.36h-3.1M397.90,86.44h3.1M695.90,86.44h-3.1M397.90,83.12h3.1M695.90,83.12h-3.1M397.90,80.24h3.1M695.90,80.24h-3.1M397.90,77.71h3.1M695.90,77.71h-3.1M397.90,60.52h3.1M695.90,60.52h-3.1M397.90,51.79h3.1M695.90,51.79h-3.1M397.90,45.60h3.1M695.90,45.60h-3.1M397.90,40.79h3.1M695.90,40.79h-3.1M397.90,36.87h3.1M695.90,36.87h-3.1M397.90,33.55h3.1M695.90,33.55h-3.1M397.90,30.67h3.1M695.90,30.67h-3.1M397.90,28.14h3.1M695.90,28.14h-3.1M397.90,10.95h3.1M695.90,10.95h-3.1M397.90,2.22h3.1M695.90,2.22h-3.1M427.80,224.15v-3.1M445.29,224.15v-3.1M457.70,224.15v-3.1M467.33,224.15v-3.1M475.20,224.15v-3.1M481.85,224.15v-3.1M487.61,224.15v-3.1M492.69,224.15v-3.1M527.14,224.15v-3.1M544.63,224.15v-3.1M557.04,224.15v-3.1M566.66,224.15v-3.1M574.53,224.15v-3.1M581.18,224.15v-3.1M586.94,224.15v-3.1M592.02,224.15v-3.1M626.47,224.15v-3.1M643.96,224.15v-3.1M656.37,224.15v-3.1M666.00,224.15v-3.1M673.86,224.15v-3.1M680.51,224.15v-3.1M686.27,224.15v-3.1M691.35,224.15v-3.1" stroke-width="1.0"/><path d="M397.90,0.7V224.15H695.90V0.7" stroke-width="1.4" stroke-linecap="square"/></g>
<text x="379.70" y="227.45" font-size="11.3" textLength="11.00" lengthAdjust="spacingAndGlyphs" stroke="#000" stroke-width="0.25">10</text>
<text x="391.30" y="224.15" font-size="7.5" textLength="3.20" lengthAdjust="spacingAndGlyphs" stroke="#000" stroke-width="0.25">1</text>
<text x="379.70" y="177.88" font-size="11.3" textLength="11.00" lengthAdjust="spacingAndGlyphs" stroke="#000" stroke-width="0.25">10</text>
<text x="391.30" y="174.58" font-size="7.5" textLength="3.20" lengthAdjust="spacingAndGlyphs" stroke="#000" stroke-width="0.25">2</text>
<text x="379.70" y="128.31" font-size="11.3" textLength="11.00" lengthAdjust="spacingAndGlyphs" stroke="#000" stroke-width="0.25">10</text>
<text x="391.30" y="125.01" font-size="7.5" textLength="3.20" lengthAdjust="spacingAndGlyphs" stroke="#000" stroke-width="0.25">3</text>
<text x="379.70" y="78.74" font-size="11.3" textLength="11.00" lengthAdjust="spacingAndGlyphs" stroke="#000" stroke-width="0.25">10</text>
<text x="391.30" y="75.44" font-size="7.5" textLength="3.20" lengthAdjust="spacingAndGlyphs" stroke="#000" stroke-width="0.25">4</text>
<text x="379.70" y="29.17" font-size="11.3" textLength="11.00" lengthAdjust="spacingAndGlyphs" stroke="#000" stroke-width="0.25">10</text>
<text x="391.30" y="25.87" font-size="7.5" textLength="3.20" lengthAdjust="spacingAndGlyphs" stroke="#000" stroke-width="0.25">5</text>
<text x="388.30" y="236.50" font-size="11.3" textLength="11.00" lengthAdjust="spacingAndGlyphs" stroke="#000" stroke-width="0.25">10</text>
<text x="399.80" y="233.10" font-size="7.5" textLength="7.70" lengthAdjust="spacingAndGlyphs" stroke="#000" stroke-width="0.25">−1</text>
<text x="489.83" y="236.50" font-size="11.3" textLength="11.00" lengthAdjust="spacingAndGlyphs" stroke="#000" stroke-width="0.25">10</text>
<text x="501.33" y="233.10" font-size="7.5" textLength="3.30" lengthAdjust="spacingAndGlyphs" stroke="#000" stroke-width="0.25">0</text>
<text x="589.17" y="236.50" font-size="11.3" textLength="11.00" lengthAdjust="spacingAndGlyphs" stroke="#000" stroke-width="0.25">10</text>
<text x="600.67" y="233.10" font-size="7.5" textLength="3.30" lengthAdjust="spacingAndGlyphs" stroke="#000" stroke-width="0.25">1</text>
<text x="688.50" y="236.50" font-size="11.3" textLength="11.00" lengthAdjust="spacingAndGlyphs" stroke="#000" stroke-width="0.25">10</text>
<text x="700.00" y="233.10" font-size="7.5" textLength="3.30" lengthAdjust="spacingAndGlyphs" stroke="#000" stroke-width="0.25">2</text>
<text x="9.80" y="112.00" font-size="13.0" font-weight="bold" text-anchor="middle" textLength="29.00" lengthAdjust="spacingAndGlyphs" transform="rotate(-90 9.80 112.00)">SNR</text>
<text x="368.90" y="113.00" font-size="13.0" font-weight="bold" text-anchor="middle" textLength="29.00" lengthAdjust="spacingAndGlyphs" transform="rotate(-90 368.90 113.00)">SNR</text>
<text x="142.50" y="256.80" font-size="12.5" font-weight="bold" textLength="30.20" lengthAdjust="spacingAndGlyphs">mass</text>
<text x="182.90" y="256.80" font-size="12.5" font-weight="bold" font-style="italic" textLength="13.40" lengthAdjust="spacingAndGlyphs">M</text>
<text x="203.60" y="256.80" font-size="12.5" font-weight="bold" textLength="3.60" lengthAdjust="spacingAndGlyphs">[</text>
<text x="206.90" y="256.80" font-size="12.5" font-weight="bold" font-style="italic" textLength="13.40" lengthAdjust="spacingAndGlyphs">M</text>
<text x="229.40" y="256.80" font-size="12.5" font-weight="bold" textLength="3.60" lengthAdjust="spacingAndGlyphs">]</text>
<text x="514.20" y="256.50" font-size="12.5" font-weight="bold" textLength="48.40" lengthAdjust="spacingAndGlyphs">redshift</text>
<text x="572.60" y="256.50" font-size="12.5" font-weight="bold" font-style="italic" textLength="6.30" lengthAdjust="spacingAndGlyphs">z</text>
<text x="229.00" y="14.70" font-size="10.5" font-weight="bold" font-style="italic" textLength="5.20" lengthAdjust="spacingAndGlyphs">q</text>
<text x="238.30" y="14.70" font-size="11.5" font-weight="bold" textLength="8.60" lengthAdjust="spacingAndGlyphs" stroke="#000" stroke-width="0.3">=</text>
<text x="250.60" y="14.70" font-size="10.5" font-weight="bold" textLength="5.90" lengthAdjust="spacingAndGlyphs">2</text>
<text x="267.70" y="14.70" font-size="10.5" font-weight="bold" font-style="italic" textLength="5.30" lengthAdjust="spacingAndGlyphs">z</text>
<text x="276.80" y="14.70" font-size="11.5" font-weight="bold" textLength="8.60" lengthAdjust="spacingAndGlyphs" stroke="#000" stroke-width="0.3">=</text>
<text x="289.60" y="14.70" font-size="10.5" font-weight="bold" textLength="5.30" lengthAdjust="spacingAndGlyphs">1</text>
<path d="M212.6,30.05h15.1" stroke="#000000" stroke-width="2.85" fill="none"/>
<text x="236.20" y="33.25" font-size="10.5" font-weight="bold" textLength="26.90" lengthAdjust="spacingAndGlyphs">(2, 2)</text>
<path d="M212.6,51.0h15.1" stroke="#d43300" stroke-width="2.85" fill="none"/>
<text x="236.20" y="54.20" font-size="10.5" font-weight="bold" textLength="26.90" lengthAdjust="spacingAndGlyphs">(3, 3)</text>
<path d="M212.6,72.0h15.1" stroke="#2e5fdc" stroke-width="2.85" fill="none"/>
<text x="236.20" y="75.20" font-size="10.5" font-weight="bold" textLength="26.90" lengthAdjust="spacingAndGlyphs">(4, 4)</text>
<path d="M273.1,30.05h15.1" stroke="#00960f" stroke-width="2.85" fill="none"/>
<text x="296.40" y="33.25" font-size="10.5" font-weight="bold" textLength="26.90" lengthAdjust="spacingAndGlyphs">(5, 5)</text>
<path d="M273.1,51.0h15.1" stroke="#ff9600" stroke-width="2.85" fill="none"/>
<text x="296.40" y="54.20" font-size="10.5" font-weight="bold" textLength="26.90" lengthAdjust="spacingAndGlyphs">(6, 6)</text>
<path d="M273.1,72.0h15.1" stroke="#9b42b8" stroke-width="2.85" fill="none"/>
<text x="296.40" y="75.20" font-size="10.5" font-weight="bold" textLength="26.90" lengthAdjust="spacingAndGlyphs">(7, 7)</text>
<text x="617.80" y="14.90" font-size="10.5" font-weight="bold" font-style="italic" textLength="10.70" lengthAdjust="spacingAndGlyphs">M</text>
<text x="628.70" y="16.70" font-size="7.4" font-weight="bold" font-style="italic" textLength="4.20" lengthAdjust="spacingAndGlyphs">s</text>
<text x="637.30" y="14.90" font-size="11.5" font-weight="bold" textLength="7.90" lengthAdjust="spacingAndGlyphs" stroke="#000" stroke-width="0.3">=</text>
<text x="649.60" y="14.90" font-size="10.5" font-weight="bold" textLength="10.80" lengthAdjust="spacingAndGlyphs">10</text>
<text x="660.60" y="11.30" font-size="7.4" font-weight="bold" textLength="4.30" lengthAdjust="spacingAndGlyphs">6</text>
<text x="666.40" y="14.90" font-size="10.5" font-weight="bold" font-style="italic" textLength="11.40" lengthAdjust="spacingAndGlyphs">M</text>
<text x="677.80" y="17.50" font-size="8.6" font-weight="bold" textLength="6.60" lengthAdjust="spacingAndGlyphs">⊙</text>
<text x="637.30" y="30.80" font-size="10.5" font-weight="bold" font-style="italic" textLength="5.20" lengthAdjust="spacingAndGlyphs">q</text>
<text x="646.60" y="30.80" font-size="11.5" font-weight="bold" textLength="8.60" lengthAdjust="spacingAndGlyphs" stroke="#000" stroke-width="0.3">=</text>
<text x="659.00" y="30.80" font-size="10.5" font-weight="bold" textLength="5.90" lengthAdjust="spacingAndGlyphs">2</text>
</svg>
</body></html>
